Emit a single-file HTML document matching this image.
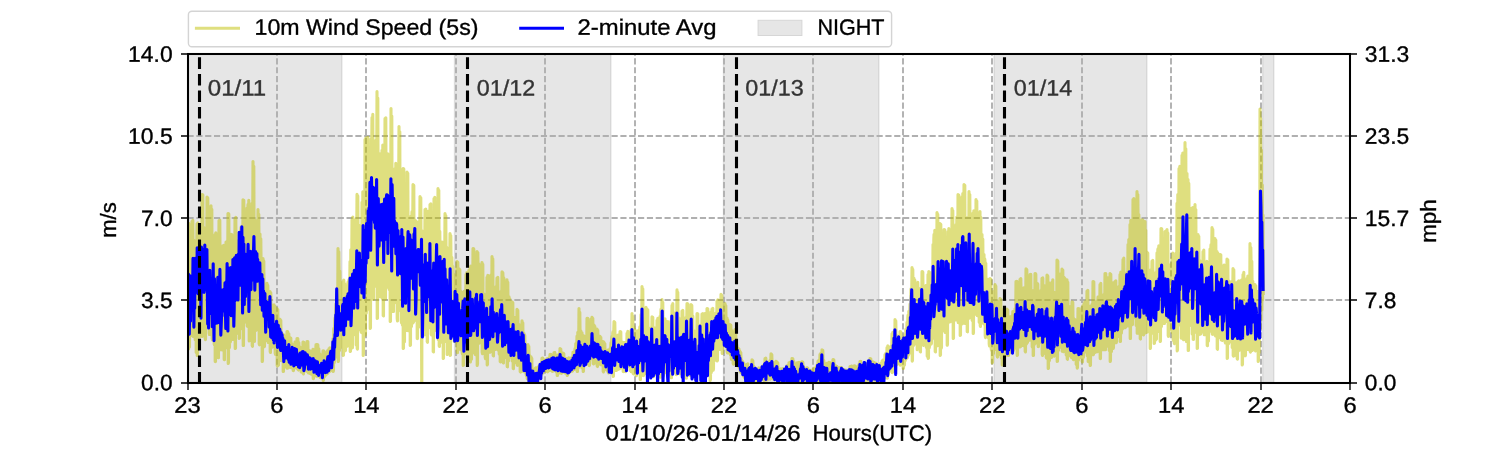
<!DOCTYPE html>
<html><head><meta charset="utf-8"><title>Wind Speed</title>
<style>html,body{margin:0;padding:0;background:#fff;overflow:hidden}body{width:1500px;height:450px}</style>
</head><body>
<svg width="1500" height="450" viewBox="0 0 1500 450" style="display:block;will-change:transform;font-family:'Liberation Sans',sans-serif">
<rect width="1500" height="450" fill="#fff"/>
<defs><clipPath id="ax"><rect x="187.5" y="54.0" width="1162.5" height="328.5"/></clipPath></defs>
<g clip-path="url(#ax)">
<rect x="187.50" y="54.0" width="154.40" height="328.5" fill="#808080" fill-opacity="0.2" stroke="#808080" stroke-opacity="0.2" stroke-width="1.39"/>
<rect x="454.50" y="54.0" width="156.40" height="328.5" fill="#808080" fill-opacity="0.2" stroke="#808080" stroke-opacity="0.2" stroke-width="1.39"/>
<rect x="723.50" y="54.0" width="155.40" height="328.5" fill="#808080" fill-opacity="0.2" stroke="#808080" stroke-opacity="0.2" stroke-width="1.39"/>
<rect x="994.00" y="54.0" width="152.90" height="328.5" fill="#808080" fill-opacity="0.2" stroke="#808080" stroke-opacity="0.2" stroke-width="1.39"/>
<rect x="1262.70" y="54.0" width="11.10" height="328.5" fill="#808080" fill-opacity="0.2" stroke="#808080" stroke-opacity="0.2" stroke-width="1.39"/>
</g>
<g>
<path d="M277.00 54.00V55.68M277.00 58.35V64.52M277.00 67.18V73.35M277.00 76.02V82.19M277.00 84.85V91.02M277.00 93.69V99.85M277.00 102.52V108.69M277.00 111.35V117.52M277.00 120.19V126.36M277.00 129.02V135.19M277.00 137.86V144.02M277.00 146.69V152.86M277.00 155.52V161.69M277.00 164.36V170.53M277.00 173.19V179.36M277.00 182.03V188.19M277.00 190.86V197.03M277.00 199.69V205.86M277.00 208.53V214.70M277.00 217.36V223.53M277.00 226.20V232.36M277.00 235.03V241.20M277.00 243.86V250.03M277.00 252.70V258.87M277.00 261.53V267.70M277.00 270.37V276.53M277.00 279.20V285.37M277.00 288.03V294.20M277.00 296.87V303.04M277.00 305.70V311.87M277.00 314.54V320.70M277.00 323.37V329.54M277.00 332.20V338.37M277.00 341.04V347.21M277.00 349.87V356.04M277.00 358.71V364.87M277.00 367.54V373.71M277.00 376.37V382.50" stroke="#b0b0b0" stroke-width="1.9" fill="none"/>
<path d="M366.00 54.00V55.68M366.00 58.35V64.52M366.00 67.18V73.35M366.00 76.02V82.19M366.00 84.85V91.02M366.00 93.69V99.85M366.00 102.52V108.69M366.00 111.35V117.52M366.00 120.19V126.36M366.00 129.02V135.19M366.00 137.86V144.02M366.00 146.69V152.86M366.00 155.52V161.69M366.00 164.36V170.53M366.00 173.19V179.36M366.00 182.03V188.19M366.00 190.86V197.03M366.00 199.69V205.86M366.00 208.53V214.70M366.00 217.36V223.53M366.00 226.20V232.36M366.00 235.03V241.20M366.00 243.86V250.03M366.00 252.70V258.87M366.00 261.53V267.70M366.00 270.37V276.53M366.00 279.20V285.37M366.00 288.03V294.20M366.00 296.87V303.04M366.00 305.70V311.87M366.00 314.54V320.70M366.00 323.37V329.54M366.00 332.20V338.37M366.00 341.04V347.21M366.00 349.87V356.04M366.00 358.71V364.87M366.00 367.54V373.71M366.00 376.37V382.50" stroke="#b0b0b0" stroke-width="1.9" fill="none"/>
<path d="M456.00 54.00V55.68M456.00 58.35V64.52M456.00 67.18V73.35M456.00 76.02V82.19M456.00 84.85V91.02M456.00 93.69V99.85M456.00 102.52V108.69M456.00 111.35V117.52M456.00 120.19V126.36M456.00 129.02V135.19M456.00 137.86V144.02M456.00 146.69V152.86M456.00 155.52V161.69M456.00 164.36V170.53M456.00 173.19V179.36M456.00 182.03V188.19M456.00 190.86V197.03M456.00 199.69V205.86M456.00 208.53V214.70M456.00 217.36V223.53M456.00 226.20V232.36M456.00 235.03V241.20M456.00 243.86V250.03M456.00 252.70V258.87M456.00 261.53V267.70M456.00 270.37V276.53M456.00 279.20V285.37M456.00 288.03V294.20M456.00 296.87V303.04M456.00 305.70V311.87M456.00 314.54V320.70M456.00 323.37V329.54M456.00 332.20V338.37M456.00 341.04V347.21M456.00 349.87V356.04M456.00 358.71V364.87M456.00 367.54V373.71M456.00 376.37V382.50" stroke="#b0b0b0" stroke-width="1.9" fill="none"/>
<path d="M545.00 54.00V55.68M545.00 58.35V64.52M545.00 67.18V73.35M545.00 76.02V82.19M545.00 84.85V91.02M545.00 93.69V99.85M545.00 102.52V108.69M545.00 111.35V117.52M545.00 120.19V126.36M545.00 129.02V135.19M545.00 137.86V144.02M545.00 146.69V152.86M545.00 155.52V161.69M545.00 164.36V170.53M545.00 173.19V179.36M545.00 182.03V188.19M545.00 190.86V197.03M545.00 199.69V205.86M545.00 208.53V214.70M545.00 217.36V223.53M545.00 226.20V232.36M545.00 235.03V241.20M545.00 243.86V250.03M545.00 252.70V258.87M545.00 261.53V267.70M545.00 270.37V276.53M545.00 279.20V285.37M545.00 288.03V294.20M545.00 296.87V303.04M545.00 305.70V311.87M545.00 314.54V320.70M545.00 323.37V329.54M545.00 332.20V338.37M545.00 341.04V347.21M545.00 349.87V356.04M545.00 358.71V364.87M545.00 367.54V373.71M545.00 376.37V382.50" stroke="#b0b0b0" stroke-width="1.9" fill="none"/>
<path d="M635.00 54.00V55.68M635.00 58.35V64.52M635.00 67.18V73.35M635.00 76.02V82.19M635.00 84.85V91.02M635.00 93.69V99.85M635.00 102.52V108.69M635.00 111.35V117.52M635.00 120.19V126.36M635.00 129.02V135.19M635.00 137.86V144.02M635.00 146.69V152.86M635.00 155.52V161.69M635.00 164.36V170.53M635.00 173.19V179.36M635.00 182.03V188.19M635.00 190.86V197.03M635.00 199.69V205.86M635.00 208.53V214.70M635.00 217.36V223.53M635.00 226.20V232.36M635.00 235.03V241.20M635.00 243.86V250.03M635.00 252.70V258.87M635.00 261.53V267.70M635.00 270.37V276.53M635.00 279.20V285.37M635.00 288.03V294.20M635.00 296.87V303.04M635.00 305.70V311.87M635.00 314.54V320.70M635.00 323.37V329.54M635.00 332.20V338.37M635.00 341.04V347.21M635.00 349.87V356.04M635.00 358.71V364.87M635.00 367.54V373.71M635.00 376.37V382.50" stroke="#b0b0b0" stroke-width="1.9" fill="none"/>
<path d="M724.00 54.00V55.68M724.00 58.35V64.52M724.00 67.18V73.35M724.00 76.02V82.19M724.00 84.85V91.02M724.00 93.69V99.85M724.00 102.52V108.69M724.00 111.35V117.52M724.00 120.19V126.36M724.00 129.02V135.19M724.00 137.86V144.02M724.00 146.69V152.86M724.00 155.52V161.69M724.00 164.36V170.53M724.00 173.19V179.36M724.00 182.03V188.19M724.00 190.86V197.03M724.00 199.69V205.86M724.00 208.53V214.70M724.00 217.36V223.53M724.00 226.20V232.36M724.00 235.03V241.20M724.00 243.86V250.03M724.00 252.70V258.87M724.00 261.53V267.70M724.00 270.37V276.53M724.00 279.20V285.37M724.00 288.03V294.20M724.00 296.87V303.04M724.00 305.70V311.87M724.00 314.54V320.70M724.00 323.37V329.54M724.00 332.20V338.37M724.00 341.04V347.21M724.00 349.87V356.04M724.00 358.71V364.87M724.00 367.54V373.71M724.00 376.37V382.50" stroke="#b0b0b0" stroke-width="1.9" fill="none"/>
<path d="M813.00 54.00V55.68M813.00 58.35V64.52M813.00 67.18V73.35M813.00 76.02V82.19M813.00 84.85V91.02M813.00 93.69V99.85M813.00 102.52V108.69M813.00 111.35V117.52M813.00 120.19V126.36M813.00 129.02V135.19M813.00 137.86V144.02M813.00 146.69V152.86M813.00 155.52V161.69M813.00 164.36V170.53M813.00 173.19V179.36M813.00 182.03V188.19M813.00 190.86V197.03M813.00 199.69V205.86M813.00 208.53V214.70M813.00 217.36V223.53M813.00 226.20V232.36M813.00 235.03V241.20M813.00 243.86V250.03M813.00 252.70V258.87M813.00 261.53V267.70M813.00 270.37V276.53M813.00 279.20V285.37M813.00 288.03V294.20M813.00 296.87V303.04M813.00 305.70V311.87M813.00 314.54V320.70M813.00 323.37V329.54M813.00 332.20V338.37M813.00 341.04V347.21M813.00 349.87V356.04M813.00 358.71V364.87M813.00 367.54V373.71M813.00 376.37V382.50" stroke="#b0b0b0" stroke-width="1.9" fill="none"/>
<path d="M903.00 54.00V55.68M903.00 58.35V64.52M903.00 67.18V73.35M903.00 76.02V82.19M903.00 84.85V91.02M903.00 93.69V99.85M903.00 102.52V108.69M903.00 111.35V117.52M903.00 120.19V126.36M903.00 129.02V135.19M903.00 137.86V144.02M903.00 146.69V152.86M903.00 155.52V161.69M903.00 164.36V170.53M903.00 173.19V179.36M903.00 182.03V188.19M903.00 190.86V197.03M903.00 199.69V205.86M903.00 208.53V214.70M903.00 217.36V223.53M903.00 226.20V232.36M903.00 235.03V241.20M903.00 243.86V250.03M903.00 252.70V258.87M903.00 261.53V267.70M903.00 270.37V276.53M903.00 279.20V285.37M903.00 288.03V294.20M903.00 296.87V303.04M903.00 305.70V311.87M903.00 314.54V320.70M903.00 323.37V329.54M903.00 332.20V338.37M903.00 341.04V347.21M903.00 349.87V356.04M903.00 358.71V364.87M903.00 367.54V373.71M903.00 376.37V382.50" stroke="#b0b0b0" stroke-width="1.9" fill="none"/>
<path d="M992.00 54.00V55.68M992.00 58.35V64.52M992.00 67.18V73.35M992.00 76.02V82.19M992.00 84.85V91.02M992.00 93.69V99.85M992.00 102.52V108.69M992.00 111.35V117.52M992.00 120.19V126.36M992.00 129.02V135.19M992.00 137.86V144.02M992.00 146.69V152.86M992.00 155.52V161.69M992.00 164.36V170.53M992.00 173.19V179.36M992.00 182.03V188.19M992.00 190.86V197.03M992.00 199.69V205.86M992.00 208.53V214.70M992.00 217.36V223.53M992.00 226.20V232.36M992.00 235.03V241.20M992.00 243.86V250.03M992.00 252.70V258.87M992.00 261.53V267.70M992.00 270.37V276.53M992.00 279.20V285.37M992.00 288.03V294.20M992.00 296.87V303.04M992.00 305.70V311.87M992.00 314.54V320.70M992.00 323.37V329.54M992.00 332.20V338.37M992.00 341.04V347.21M992.00 349.87V356.04M992.00 358.71V364.87M992.00 367.54V373.71M992.00 376.37V382.50" stroke="#b0b0b0" stroke-width="1.9" fill="none"/>
<path d="M1082.00 54.00V55.68M1082.00 58.35V64.52M1082.00 67.18V73.35M1082.00 76.02V82.19M1082.00 84.85V91.02M1082.00 93.69V99.85M1082.00 102.52V108.69M1082.00 111.35V117.52M1082.00 120.19V126.36M1082.00 129.02V135.19M1082.00 137.86V144.02M1082.00 146.69V152.86M1082.00 155.52V161.69M1082.00 164.36V170.53M1082.00 173.19V179.36M1082.00 182.03V188.19M1082.00 190.86V197.03M1082.00 199.69V205.86M1082.00 208.53V214.70M1082.00 217.36V223.53M1082.00 226.20V232.36M1082.00 235.03V241.20M1082.00 243.86V250.03M1082.00 252.70V258.87M1082.00 261.53V267.70M1082.00 270.37V276.53M1082.00 279.20V285.37M1082.00 288.03V294.20M1082.00 296.87V303.04M1082.00 305.70V311.87M1082.00 314.54V320.70M1082.00 323.37V329.54M1082.00 332.20V338.37M1082.00 341.04V347.21M1082.00 349.87V356.04M1082.00 358.71V364.87M1082.00 367.54V373.71M1082.00 376.37V382.50" stroke="#b0b0b0" stroke-width="1.9" fill="none"/>
<path d="M1171.00 54.00V55.68M1171.00 58.35V64.52M1171.00 67.18V73.35M1171.00 76.02V82.19M1171.00 84.85V91.02M1171.00 93.69V99.85M1171.00 102.52V108.69M1171.00 111.35V117.52M1171.00 120.19V126.36M1171.00 129.02V135.19M1171.00 137.86V144.02M1171.00 146.69V152.86M1171.00 155.52V161.69M1171.00 164.36V170.53M1171.00 173.19V179.36M1171.00 182.03V188.19M1171.00 190.86V197.03M1171.00 199.69V205.86M1171.00 208.53V214.70M1171.00 217.36V223.53M1171.00 226.20V232.36M1171.00 235.03V241.20M1171.00 243.86V250.03M1171.00 252.70V258.87M1171.00 261.53V267.70M1171.00 270.37V276.53M1171.00 279.20V285.37M1171.00 288.03V294.20M1171.00 296.87V303.04M1171.00 305.70V311.87M1171.00 314.54V320.70M1171.00 323.37V329.54M1171.00 332.20V338.37M1171.00 341.04V347.21M1171.00 349.87V356.04M1171.00 358.71V364.87M1171.00 367.54V373.71M1171.00 376.37V382.50" stroke="#b0b0b0" stroke-width="1.9" fill="none"/>
<path d="M1261.00 54.00V55.68M1261.00 58.35V64.52M1261.00 67.18V73.35M1261.00 76.02V82.19M1261.00 84.85V91.02M1261.00 93.69V99.85M1261.00 102.52V108.69M1261.00 111.35V117.52M1261.00 120.19V126.36M1261.00 129.02V135.19M1261.00 137.86V144.02M1261.00 146.69V152.86M1261.00 155.52V161.69M1261.00 164.36V170.53M1261.00 173.19V179.36M1261.00 182.03V188.19M1261.00 190.86V197.03M1261.00 199.69V205.86M1261.00 208.53V214.70M1261.00 217.36V223.53M1261.00 226.20V232.36M1261.00 235.03V241.20M1261.00 243.86V250.03M1261.00 252.70V258.87M1261.00 261.53V267.70M1261.00 270.37V276.53M1261.00 279.20V285.37M1261.00 288.03V294.20M1261.00 296.87V303.04M1261.00 305.70V311.87M1261.00 314.54V320.70M1261.00 323.37V329.54M1261.00 332.20V338.37M1261.00 341.04V347.21M1261.00 349.87V356.04M1261.00 358.71V364.87M1261.00 367.54V373.71M1261.00 376.37V382.50" stroke="#b0b0b0" stroke-width="1.9" fill="none"/>
<path d="M187.50 300.00H193.67M196.33 300.00H202.50M205.17 300.00H211.34M214.00 300.00H220.17M222.84 300.00H229.00M231.67 300.00H237.84M240.50 300.00H246.67M249.34 300.00H255.51M258.17 300.00H264.34M267.01 300.00H273.17M275.84 300.00H282.01M284.67 300.00H290.84M293.51 300.00H299.68M302.34 300.00H308.51M311.18 300.00H317.34M320.01 300.00H326.18M328.84 300.00H335.01M337.68 300.00H343.85M346.51 300.00H352.68M355.35 300.00H361.51M364.18 300.00H370.35M373.01 300.00H379.18M381.85 300.00H388.02M390.68 300.00H396.85M399.52 300.00H405.68M408.35 300.00H414.52M417.18 300.00H423.35M426.02 300.00H432.19M434.85 300.00H441.02M443.69 300.00H449.85M452.52 300.00H458.69M461.35 300.00H467.52M470.19 300.00H476.36M479.02 300.00H485.19M487.86 300.00H494.02M496.69 300.00H502.86M505.52 300.00H511.69M514.36 300.00H520.53M523.19 300.00H529.36M532.03 300.00H538.19M540.86 300.00H547.03M549.69 300.00H555.86M558.53 300.00H564.69M567.36 300.00H573.53M576.20 300.00H582.36M585.03 300.00H591.20M593.86 300.00H600.03M602.70 300.00H608.86M611.53 300.00H617.70M620.37 300.00H626.53M629.20 300.00H635.37M638.03 300.00H644.20M646.87 300.00H653.03M655.70 300.00H661.87M664.54 300.00H670.70M673.37 300.00H679.54M682.20 300.00H688.37M691.04 300.00H697.20M699.87 300.00H706.04M708.71 300.00H714.87M717.54 300.00H723.71M726.37 300.00H732.54M735.21 300.00H741.37M744.04 300.00H750.21M752.88 300.00H759.04M761.71 300.00H767.88M770.54 300.00H776.71M779.38 300.00H785.54M788.21 300.00H794.38M797.05 300.00H803.21M805.88 300.00H812.05M814.71 300.00H820.88M823.55 300.00H829.71M832.38 300.00H838.55M841.22 300.00H847.38M850.05 300.00H856.22M858.88 300.00H865.05M867.72 300.00H873.88M876.55 300.00H882.72M885.39 300.00H891.55M894.22 300.00H900.39M903.05 300.00H909.22M911.89 300.00H918.05M920.72 300.00H926.89M929.56 300.00H935.72M938.39 300.00H944.56M947.22 300.00H953.39M956.06 300.00H962.22M964.89 300.00H971.06M973.73 300.00H979.89M982.56 300.00H988.73M991.39 300.00H997.56M1000.23 300.00H1006.39M1009.06 300.00H1015.23M1017.90 300.00H1024.06M1026.73 300.00H1032.90M1035.56 300.00H1041.73M1044.40 300.00H1050.56M1053.23 300.00H1059.40M1062.07 300.00H1068.23M1070.90 300.00H1077.07M1079.73 300.00H1085.90M1088.57 300.00H1094.73M1097.40 300.00H1103.57M1106.24 300.00H1112.40M1115.07 300.00H1121.24M1123.90 300.00H1130.07M1132.74 300.00H1138.90M1141.57 300.00H1147.74M1150.41 300.00H1156.57M1159.24 300.00H1165.41M1168.07 300.00H1174.24M1176.91 300.00H1183.07M1185.74 300.00H1191.91M1194.58 300.00H1200.74M1203.41 300.00H1209.58M1212.24 300.00H1218.41M1221.08 300.00H1227.24M1229.91 300.00H1236.08M1238.75 300.00H1244.91M1247.58 300.00H1253.75M1256.41 300.00H1262.58M1265.25 300.00H1271.41M1274.08 300.00H1280.25M1282.92 300.00H1289.08M1291.75 300.00H1297.92M1300.58 300.00H1306.75M1309.42 300.00H1315.58M1318.25 300.00H1324.42M1327.09 300.00H1333.25M1335.92 300.00H1342.09M1344.75 300.00H1350.00" stroke="#b0b0b0" stroke-width="1.9" fill="none"/>
<path d="M187.50 218.00H193.67M196.33 218.00H202.50M205.17 218.00H211.34M214.00 218.00H220.17M222.84 218.00H229.00M231.67 218.00H237.84M240.50 218.00H246.67M249.34 218.00H255.51M258.17 218.00H264.34M267.01 218.00H273.17M275.84 218.00H282.01M284.67 218.00H290.84M293.51 218.00H299.68M302.34 218.00H308.51M311.18 218.00H317.34M320.01 218.00H326.18M328.84 218.00H335.01M337.68 218.00H343.85M346.51 218.00H352.68M355.35 218.00H361.51M364.18 218.00H370.35M373.01 218.00H379.18M381.85 218.00H388.02M390.68 218.00H396.85M399.52 218.00H405.68M408.35 218.00H414.52M417.18 218.00H423.35M426.02 218.00H432.19M434.85 218.00H441.02M443.69 218.00H449.85M452.52 218.00H458.69M461.35 218.00H467.52M470.19 218.00H476.36M479.02 218.00H485.19M487.86 218.00H494.02M496.69 218.00H502.86M505.52 218.00H511.69M514.36 218.00H520.53M523.19 218.00H529.36M532.03 218.00H538.19M540.86 218.00H547.03M549.69 218.00H555.86M558.53 218.00H564.69M567.36 218.00H573.53M576.20 218.00H582.36M585.03 218.00H591.20M593.86 218.00H600.03M602.70 218.00H608.86M611.53 218.00H617.70M620.37 218.00H626.53M629.20 218.00H635.37M638.03 218.00H644.20M646.87 218.00H653.03M655.70 218.00H661.87M664.54 218.00H670.70M673.37 218.00H679.54M682.20 218.00H688.37M691.04 218.00H697.20M699.87 218.00H706.04M708.71 218.00H714.87M717.54 218.00H723.71M726.37 218.00H732.54M735.21 218.00H741.37M744.04 218.00H750.21M752.88 218.00H759.04M761.71 218.00H767.88M770.54 218.00H776.71M779.38 218.00H785.54M788.21 218.00H794.38M797.05 218.00H803.21M805.88 218.00H812.05M814.71 218.00H820.88M823.55 218.00H829.71M832.38 218.00H838.55M841.22 218.00H847.38M850.05 218.00H856.22M858.88 218.00H865.05M867.72 218.00H873.88M876.55 218.00H882.72M885.39 218.00H891.55M894.22 218.00H900.39M903.05 218.00H909.22M911.89 218.00H918.05M920.72 218.00H926.89M929.56 218.00H935.72M938.39 218.00H944.56M947.22 218.00H953.39M956.06 218.00H962.22M964.89 218.00H971.06M973.73 218.00H979.89M982.56 218.00H988.73M991.39 218.00H997.56M1000.23 218.00H1006.39M1009.06 218.00H1015.23M1017.90 218.00H1024.06M1026.73 218.00H1032.90M1035.56 218.00H1041.73M1044.40 218.00H1050.56M1053.23 218.00H1059.40M1062.07 218.00H1068.23M1070.90 218.00H1077.07M1079.73 218.00H1085.90M1088.57 218.00H1094.73M1097.40 218.00H1103.57M1106.24 218.00H1112.40M1115.07 218.00H1121.24M1123.90 218.00H1130.07M1132.74 218.00H1138.90M1141.57 218.00H1147.74M1150.41 218.00H1156.57M1159.24 218.00H1165.41M1168.07 218.00H1174.24M1176.91 218.00H1183.07M1185.74 218.00H1191.91M1194.58 218.00H1200.74M1203.41 218.00H1209.58M1212.24 218.00H1218.41M1221.08 218.00H1227.24M1229.91 218.00H1236.08M1238.75 218.00H1244.91M1247.58 218.00H1253.75M1256.41 218.00H1262.58M1265.25 218.00H1271.41M1274.08 218.00H1280.25M1282.92 218.00H1289.08M1291.75 218.00H1297.92M1300.58 218.00H1306.75M1309.42 218.00H1315.58M1318.25 218.00H1324.42M1327.09 218.00H1333.25M1335.92 218.00H1342.09M1344.75 218.00H1350.00" stroke="#b0b0b0" stroke-width="1.9" fill="none"/>
<path d="M187.50 136.00H193.67M196.33 136.00H202.50M205.17 136.00H211.34M214.00 136.00H220.17M222.84 136.00H229.00M231.67 136.00H237.84M240.50 136.00H246.67M249.34 136.00H255.51M258.17 136.00H264.34M267.01 136.00H273.17M275.84 136.00H282.01M284.67 136.00H290.84M293.51 136.00H299.68M302.34 136.00H308.51M311.18 136.00H317.34M320.01 136.00H326.18M328.84 136.00H335.01M337.68 136.00H343.85M346.51 136.00H352.68M355.35 136.00H361.51M364.18 136.00H370.35M373.01 136.00H379.18M381.85 136.00H388.02M390.68 136.00H396.85M399.52 136.00H405.68M408.35 136.00H414.52M417.18 136.00H423.35M426.02 136.00H432.19M434.85 136.00H441.02M443.69 136.00H449.85M452.52 136.00H458.69M461.35 136.00H467.52M470.19 136.00H476.36M479.02 136.00H485.19M487.86 136.00H494.02M496.69 136.00H502.86M505.52 136.00H511.69M514.36 136.00H520.53M523.19 136.00H529.36M532.03 136.00H538.19M540.86 136.00H547.03M549.69 136.00H555.86M558.53 136.00H564.69M567.36 136.00H573.53M576.20 136.00H582.36M585.03 136.00H591.20M593.86 136.00H600.03M602.70 136.00H608.86M611.53 136.00H617.70M620.37 136.00H626.53M629.20 136.00H635.37M638.03 136.00H644.20M646.87 136.00H653.03M655.70 136.00H661.87M664.54 136.00H670.70M673.37 136.00H679.54M682.20 136.00H688.37M691.04 136.00H697.20M699.87 136.00H706.04M708.71 136.00H714.87M717.54 136.00H723.71M726.37 136.00H732.54M735.21 136.00H741.37M744.04 136.00H750.21M752.88 136.00H759.04M761.71 136.00H767.88M770.54 136.00H776.71M779.38 136.00H785.54M788.21 136.00H794.38M797.05 136.00H803.21M805.88 136.00H812.05M814.71 136.00H820.88M823.55 136.00H829.71M832.38 136.00H838.55M841.22 136.00H847.38M850.05 136.00H856.22M858.88 136.00H865.05M867.72 136.00H873.88M876.55 136.00H882.72M885.39 136.00H891.55M894.22 136.00H900.39M903.05 136.00H909.22M911.89 136.00H918.05M920.72 136.00H926.89M929.56 136.00H935.72M938.39 136.00H944.56M947.22 136.00H953.39M956.06 136.00H962.22M964.89 136.00H971.06M973.73 136.00H979.89M982.56 136.00H988.73M991.39 136.00H997.56M1000.23 136.00H1006.39M1009.06 136.00H1015.23M1017.90 136.00H1024.06M1026.73 136.00H1032.90M1035.56 136.00H1041.73M1044.40 136.00H1050.56M1053.23 136.00H1059.40M1062.07 136.00H1068.23M1070.90 136.00H1077.07M1079.73 136.00H1085.90M1088.57 136.00H1094.73M1097.40 136.00H1103.57M1106.24 136.00H1112.40M1115.07 136.00H1121.24M1123.90 136.00H1130.07M1132.74 136.00H1138.90M1141.57 136.00H1147.74M1150.41 136.00H1156.57M1159.24 136.00H1165.41M1168.07 136.00H1174.24M1176.91 136.00H1183.07M1185.74 136.00H1191.91M1194.58 136.00H1200.74M1203.41 136.00H1209.58M1212.24 136.00H1218.41M1221.08 136.00H1227.24M1229.91 136.00H1236.08M1238.75 136.00H1244.91M1247.58 136.00H1253.75M1256.41 136.00H1262.58M1265.25 136.00H1271.41M1274.08 136.00H1280.25M1282.92 136.00H1289.08M1291.75 136.00H1297.92M1300.58 136.00H1306.75M1309.42 136.00H1315.58M1318.25 136.00H1324.42M1327.09 136.00H1333.25M1335.92 136.00H1342.09M1344.75 136.00H1350.00" stroke="#b0b0b0" stroke-width="1.9" fill="none"/>
</g>
<g clip-path="url(#ax)" fill="none" stroke-linejoin="round" stroke-linecap="butt">
<path d="M188.0 224.5L188.2 348.5L188.5 348.9L188.8 223.4L189.0 263.4L189.2 346.6L189.5 346.9L189.8 262.2L190.0 246.3L190.2 336.0L190.5 335.9L190.8 245.1L191.0 256.5L191.2 334.1L191.5 333.9L191.8 255.3L192.0 221.3L192.2 334.6L192.5 334.5L192.8 220.2L193.0 241.1L193.2 336.5L193.5 336.6L193.8 240.1L194.0 248.0L194.2 328.7L194.5 328.6L194.8 247.0L195.0 248.3L195.2 339.7L195.5 339.8L195.8 247.4L196.0 244.6L196.2 352.4L196.5 352.7L196.8 243.6L197.0 223.8L197.2 355.5L197.5 354.4L197.8 222.8L198.0 250.6L198.2 330.8L198.5 329.8L198.8 249.6L199.0 228.3L199.2 337.2L199.5 336.2L199.8 227.3L200.0 233.2L200.2 330.2L200.5 329.5L200.8 232.7L201.0 245.9L201.2 317.8L201.5 317.3L201.8 245.6L202.0 194.6L202.2 336.5L202.5 335.6L202.8 194.8L203.0 241.9L203.2 325.5L203.5 324.8L203.8 242.2L204.0 227.7L204.2 328.6L204.5 327.8L204.8 228.0L205.0 240.1L205.2 338.5L205.5 339.6L205.8 240.3L206.0 249.1L206.2 322.5L206.5 323.3L206.8 249.3L207.0 197.0L207.2 315.5L207.5 316.7L207.8 197.9L208.0 227.6L208.2 320.5L208.5 321.7L208.8 228.6L209.0 236.2L209.2 333.3L209.5 334.5L209.8 237.3L210.0 232.6L210.2 326.9L210.5 328.2L210.8 233.7L211.0 205.7L211.2 334.0L211.5 335.2L211.8 209.3L212.0 257.9L212.2 338.7L212.5 340.0L212.8 260.3L213.0 251.6L213.2 339.9L213.5 340.6L213.8 253.9L214.0 262.7L214.2 344.1L214.5 345.0L214.8 264.6L215.0 234.5L215.2 361.5L215.5 361.6L215.8 232.8L216.0 267.0L216.2 338.4L216.5 338.4L216.8 266.2L217.0 266.5L217.2 343.1L217.5 343.1L217.8 265.7L218.0 255.6L218.2 357.6L218.5 357.7L218.8 254.6L219.0 220.5L219.2 334.7L219.5 334.7L219.8 220.1L220.0 252.3L220.2 349.7L220.5 349.7L220.8 252.0L221.0 253.2L221.2 343.8L221.5 343.8L221.8 252.8L222.0 250.6L222.2 349.9L222.5 349.8L222.8 250.2L223.0 245.7L223.2 347.9L223.5 347.8L223.8 245.3L224.0 260.3L224.2 359.6L224.5 359.7L224.8 259.9L225.0 259.2L225.2 333.7L225.5 333.6L225.8 258.8L226.0 242.1L226.2 347.6L226.5 347.5L226.8 241.7L227.0 243.7L227.2 336.3L227.5 336.2L227.8 243.3L228.0 213.5L228.2 363.5L228.5 362.4L228.8 213.9L229.0 245.2L229.2 347.9L229.5 347.0L229.8 245.3L230.0 248.8L230.2 342.3L230.5 341.5L230.8 248.8L231.0 234.4L231.2 338.1L231.5 337.2L231.8 234.6L232.0 250.7L232.2 333.2L232.5 332.4L232.8 250.8L233.0 257.7L233.2 339.4L233.5 338.3L233.8 257.1L234.0 259.5L234.2 332.4L234.5 331.3L234.8 258.9L235.0 218.5L235.2 348.5L235.5 348.3L235.8 217.3L236.0 241.9L236.2 333.7L236.5 333.3L236.8 240.6L237.0 252.2L237.2 322.5L237.5 321.8L237.8 250.9L238.0 251.4L238.2 317.5L238.5 316.8L238.8 250.1L239.0 245.1L239.2 338.4L239.5 338.0L239.8 243.8L240.0 232.0L240.2 329.3L240.5 328.8L240.8 230.7L241.0 227.6L241.2 325.9L241.5 325.4L241.8 226.3L242.0 237.2L242.2 317.5L242.5 317.7L242.8 237.1L243.0 199.8L243.2 345.5L243.5 345.5L243.8 200.3L244.0 234.6L244.2 322.2L244.5 322.4L244.8 235.2L245.0 231.6L245.2 318.3L245.5 318.7L245.8 232.2L246.0 233.2L246.2 314.4L246.5 314.8L246.8 233.8L247.0 208.1L247.2 326.1L247.5 326.3L247.8 208.6L248.0 204.5L248.2 318.6L248.5 318.0L248.8 200.2L249.0 224.2L249.2 340.9L249.5 340.8L249.8 220.9L250.0 228.0L250.2 316.0L250.5 315.4L250.8 225.0L251.0 226.4L251.2 323.0L251.5 322.5L251.8 223.6L252.0 203.3L252.2 345.5L252.5 346.3L252.8 199.9L253.0 161.5L253.2 314.3L253.5 314.2L253.8 166.3L254.0 216.6L254.2 340.5L254.5 341.4L254.8 219.9L255.0 227.8L255.2 329.7L255.5 330.7L255.8 230.9L256.0 228.8L256.2 329.0L256.5 330.1L256.8 232.1L257.0 234.3L257.2 321.1L257.5 322.2L257.8 237.6L258.0 209.5L258.2 325.7L258.5 326.9L258.8 214.4L259.0 243.3L259.2 343.8L259.5 344.8L259.8 246.9L260.0 234.0L260.2 341.9L260.5 343.2L260.8 238.7L261.0 255.9L261.2 329.0L261.5 330.8L261.8 260.2L262.0 268.6L262.2 361.5L262.5 360.9L262.8 272.7L263.0 258.5L263.2 333.5L263.5 334.6L263.8 260.9L264.0 288.6L264.2 346.2L264.5 346.5L264.8 291.4L265.0 294.0L265.2 337.7L265.5 337.4L265.8 295.1L266.0 287.4L266.2 340.5L266.5 340.2L266.8 289.0L267.0 283.4L267.2 339.8L267.5 339.5L267.8 285.4L268.0 299.3L268.2 342.5L268.5 342.2L268.8 300.6L269.0 303.0L269.2 338.1L269.5 337.9L269.8 304.2L270.0 291.5L270.2 351.5L270.5 352.5L270.8 292.7L271.0 306.5L271.2 346.4L271.5 347.4L271.8 307.8L272.0 305.1L272.2 345.9L272.5 347.0L272.8 306.4L273.0 312.5L273.2 341.5L273.5 342.7L273.8 313.7L274.0 304.9L274.2 344.5L274.5 345.7L274.8 306.1L275.0 313.0L275.2 353.2L275.5 354.3L275.8 314.2L276.0 320.1L276.2 351.9L276.5 353.0L276.8 321.4L277.0 308.5L277.2 365.5L277.5 366.0L277.8 309.6L278.0 321.0L278.2 364.6L278.5 365.2L278.8 322.2L279.0 319.7L279.2 359.7L279.5 360.4L279.8 320.9L280.0 319.3L280.2 359.7L280.5 360.5L280.8 320.4L281.0 333.6L281.2 359.7L281.5 360.5L281.8 334.8L282.0 333.9L282.2 359.9L282.5 360.8L282.8 335.1L283.0 334.2L283.2 371.5L283.5 371.4L283.8 335.0L284.0 337.8L284.2 361.8L284.5 361.9L284.8 338.6L285.0 336.5L285.2 364.0L285.5 364.1L285.8 337.4L286.0 341.5L286.2 367.1L286.5 367.1L286.8 342.2L287.0 331.5L287.2 368.2L287.5 368.2L287.8 331.9L288.0 333.4L288.2 365.1L288.5 365.2L288.8 333.7L289.0 344.8L289.2 365.8L289.5 365.8L289.8 345.1L290.0 337.7L290.2 367.4L290.5 367.4L290.8 338.0L291.0 343.3L291.2 367.7L291.5 367.7L291.8 343.7L292.0 344.4L292.2 367.6L292.5 367.7L292.8 344.7L293.0 346.2L293.2 370.5L293.5 370.6L293.8 346.5L294.0 345.0L294.2 367.0L294.5 367.2L294.8 345.3L295.0 342.1L295.2 366.3L295.5 366.5L295.8 342.4L296.0 347.9L296.2 367.9L296.5 368.1L296.8 348.2L297.0 338.5L297.2 368.5L297.5 368.6L297.8 338.6L298.0 342.4L298.2 369.8L298.5 370.0L298.8 342.6L299.0 346.8L299.2 368.0L299.5 368.2L299.8 347.0L300.0 349.9L300.2 367.6L300.5 367.7L300.8 350.1L301.0 347.7L301.2 372.0L301.5 372.1L301.8 347.8L302.0 351.2L302.2 368.6L302.5 368.8L302.8 351.4L303.0 342.0L303.2 373.5L303.5 373.8L303.8 342.2L304.0 351.0L304.2 369.8L304.5 370.0L304.8 351.1L305.0 350.3L305.2 369.8L305.5 370.0L305.8 350.5L306.0 351.6L306.2 370.8L306.5 371.1L306.8 351.8L307.0 341.5L307.2 371.1L307.5 371.4L307.8 341.6L308.0 350.1L308.2 372.6L308.5 372.9L308.8 350.3L309.0 350.7L309.2 372.7L309.5 373.0L309.8 350.9L310.0 352.7L310.2 373.6L310.5 373.8L310.8 352.8L311.0 355.4L311.2 373.8L311.5 374.1L311.8 355.6L312.0 351.0L312.2 374.0L312.5 374.2L312.8 351.1L313.0 349.3L313.2 378.5L313.5 378.6L313.8 349.5L314.0 354.5L314.2 375.1L314.5 375.3L314.8 354.8L315.0 350.0L315.2 374.5L315.5 374.7L315.8 350.2L316.0 344.9L316.2 375.9L316.5 376.1L316.8 345.0L317.0 344.5L317.2 375.9L317.5 376.1L317.8 344.9L318.0 348.5L318.2 375.5L318.5 375.7L318.8 348.8L319.0 353.6L319.2 375.2L319.5 375.4L319.8 353.9L320.0 360.2L320.2 377.4L320.5 377.6L320.8 360.6L321.0 361.0L321.2 377.7L321.5 377.9L321.8 361.3L322.0 356.9L322.2 376.7L322.5 376.6L322.8 356.9L323.0 350.8L323.2 380.5L323.5 380.1L323.8 351.1L324.0 352.5L324.2 376.9L324.5 376.4L324.8 352.7L325.0 356.2L325.2 375.6L325.5 375.2L325.8 356.2L326.0 354.4L326.2 373.1L326.5 372.6L326.8 354.5L327.0 351.5L327.2 374.0L327.5 373.5L327.8 350.4L328.0 355.6L328.2 371.4L328.5 370.7L328.8 354.5L329.0 348.8L329.2 371.9L329.5 371.3L329.8 347.8L330.0 351.8L330.2 371.0L330.5 370.4L330.8 350.8L331.0 348.8L331.2 370.0L331.5 369.4L331.8 347.7L332.0 347.7L332.2 366.1L332.5 365.4L332.8 346.6L333.0 338.5L333.2 371.5L333.5 370.5L333.8 329.5L334.0 328.3L334.2 362.8L334.5 360.7L334.8 320.5L335.0 318.0L335.2 357.5L335.5 355.2L335.8 310.8L336.0 303.7L336.2 346.8L336.5 343.9L336.8 296.5L337.0 292.4L337.2 347.4L337.5 346.9L337.8 288.8L338.0 248.5L338.2 361.5L338.5 360.9L338.8 251.8L339.0 268.2L339.2 350.7L339.5 350.3L339.8 271.0L340.0 291.4L340.2 346.7L340.5 346.4L340.8 293.2L341.0 295.6L341.2 347.2L341.5 346.9L341.8 297.4L342.0 295.7L342.2 343.3L342.5 343.1L342.8 297.7L343.0 281.5L343.2 355.5L343.5 355.2L343.8 280.1L344.0 285.2L344.2 350.1L344.5 349.7L344.8 283.8L345.0 298.3L345.2 350.7L345.5 350.3L345.8 297.0L346.0 295.4L346.2 340.2L346.5 339.6L346.8 294.1L347.0 293.0L347.2 346.3L347.5 345.9L347.8 291.7L348.0 282.1L348.2 338.3L348.5 337.7L348.8 280.8L349.0 279.8L349.2 332.1L349.5 331.4L349.8 278.4L350.0 261.5L350.2 351.5L350.5 351.3L350.8 249.7L351.0 261.2L351.2 331.2L351.5 330.4L351.8 253.2L352.0 219.8L352.2 348.0L352.5 347.7L352.8 217.0L353.0 252.8L353.2 335.2L353.5 334.5L353.8 250.5L354.0 243.9L354.2 333.6L354.5 332.9L354.8 241.5L355.0 221.9L355.2 326.7L355.5 326.0L355.8 219.3L356.0 224.9L356.2 344.9L356.5 344.6L356.8 222.4L357.0 194.4L357.2 348.5L357.5 349.1L357.8 195.9L358.0 225.1L358.2 329.8L358.5 329.9L358.8 225.7L359.0 225.3L359.2 327.9L359.5 328.0L359.8 225.9L360.0 226.4L360.2 329.8L360.5 329.9L360.8 227.1L361.0 233.6L361.2 332.3L361.5 332.5L361.8 234.0L362.0 202.2L362.2 321.2L362.5 321.1L362.8 191.8L363.0 208.5L363.2 355.5L363.5 353.6L363.8 200.2L364.0 208.0L364.2 326.7L364.5 324.4L364.8 200.8L365.0 139.5L365.2 335.3L365.5 333.1L365.8 138.0L366.0 198.7L366.2 313.3L366.5 310.8L366.8 195.9L367.0 139.0L367.2 309.9L367.5 307.5L367.8 137.4L368.0 176.0L368.2 306.2L368.5 303.8L368.8 173.5L369.0 164.9L369.2 296.1L369.5 293.6L369.8 162.5L370.0 174.3L370.2 328.5L370.5 327.8L370.8 173.9L371.0 138.8L371.2 293.9L371.5 293.5L371.8 137.6L372.0 117.6L372.2 299.3L372.5 298.9L372.8 114.4L373.0 171.4L373.2 299.3L373.5 298.9L373.8 170.3L374.0 172.4L374.2 273.9L374.5 273.7L374.8 171.4L375.0 158.1L375.2 283.6L375.5 283.4L375.8 156.7L376.0 140.0L376.2 286.3L376.5 286.0L376.8 138.2L377.0 91.5L377.2 318.5L377.5 318.2L377.8 98.1L378.0 151.1L378.2 294.0L378.5 294.0L378.8 155.5L379.0 176.1L379.2 274.4L379.5 274.7L379.8 179.6L380.0 153.8L380.2 296.7L380.5 296.7L380.8 159.0L381.0 191.8L381.2 285.4L381.5 285.6L381.8 195.2L382.0 150.3L382.2 298.3L382.5 298.2L382.8 145.0L383.0 178.2L383.2 315.5L383.5 315.9L383.8 174.9L384.0 181.1L384.2 285.2L384.5 285.3L384.8 178.1L385.0 118.5L385.2 298.7L385.5 299.0L385.8 117.7L386.0 170.9L386.2 287.2L386.5 287.2L386.8 170.2L387.0 154.5L387.2 278.3L387.5 278.3L387.8 153.8L388.0 166.9L388.2 280.7L388.5 280.7L388.8 166.2L389.0 177.8L389.2 289.5L389.5 289.6L389.8 177.1L390.0 167.8L390.2 321.5L390.5 321.3L390.8 167.1L391.0 108.5L391.2 283.6L391.5 284.2L391.8 116.0L392.0 170.9L392.2 299.7L392.5 300.0L392.8 175.9L393.0 169.9L393.2 311.4L393.5 311.4L393.8 175.5L394.0 191.5L394.2 302.6L394.5 302.8L394.8 196.4L395.0 168.5L395.2 295.8L395.5 296.2L395.8 163.2L396.0 191.5L396.2 298.4L396.5 298.7L396.8 189.0L397.0 194.6L397.2 318.5L397.5 321.0L397.8 192.8L398.0 165.8L398.2 299.8L398.5 302.2L398.8 162.4L399.0 126.5L399.2 300.9L399.5 303.3L399.8 131.8L400.0 206.9L400.2 308.7L400.5 311.1L400.8 210.4L401.0 171.0L401.2 320.4L401.5 322.8L401.8 175.6L402.0 220.3L402.2 323.4L402.5 325.3L402.8 222.7L403.0 168.5L403.2 348.5L403.5 348.3L403.8 168.9L404.0 226.7L404.2 342.0L404.5 341.8L404.8 227.0L405.0 196.3L405.2 316.6L405.5 316.6L405.8 196.7L406.0 226.2L406.2 322.9L406.5 322.9L406.8 226.5L407.0 172.1L407.2 330.5L407.5 330.4L407.8 173.2L408.0 221.3L408.2 330.8L408.5 330.6L408.8 221.8L409.0 232.9L409.2 314.8L409.5 314.6L409.8 233.3L410.0 216.7L410.2 345.5L410.5 345.0L410.8 217.2L411.0 216.4L411.2 326.7L411.5 326.3L411.8 217.0L412.0 211.9L412.2 323.5L412.5 323.1L412.8 212.5L413.0 184.5L413.2 322.5L413.5 322.1L413.8 185.4L414.0 229.1L414.2 320.8L414.5 320.4L414.8 229.5L415.0 220.0L415.2 317.8L415.5 317.9L415.8 221.1L416.0 225.0L416.2 314.9L416.5 315.1L416.8 226.1L417.0 227.2L417.2 338.5L417.5 338.6L417.8 228.3L418.0 222.0L418.2 317.0L418.5 317.6L418.8 223.0L419.0 222.6L419.2 314.2L419.5 314.9L419.8 223.6L420.0 196.5L420.2 326.7L420.5 327.2L420.8 197.8L421.0 242.3L421.2 327.9L421.5 328.4L421.8 400.0L422.0 230.9L422.2 317.2L422.5 317.1L422.8 231.6L423.0 253.9L423.2 326.9L423.5 326.9L423.8 254.2L424.0 247.3L424.2 334.8L424.5 334.9L424.8 247.6L425.0 209.5L425.2 331.7L425.5 331.8L425.8 209.0L426.0 252.7L426.2 331.5L426.5 331.6L426.8 252.2L427.0 218.3L427.2 341.5L427.5 342.3L427.8 217.8L428.0 211.6L428.2 321.8L428.5 322.1L428.8 211.1L429.0 239.9L429.2 318.4L429.5 318.7L429.8 239.4L430.0 204.5L430.2 327.4L430.5 328.2L430.8 203.8L431.0 248.2L431.2 334.0L431.5 334.9L431.8 248.3L432.0 241.6L432.2 323.8L432.5 324.6L432.8 241.6L433.0 251.1L433.2 351.5L433.5 351.9L433.8 251.3L434.0 198.5L434.2 330.5L434.5 331.0L434.8 197.2L435.0 244.7L435.2 324.2L435.5 324.8L435.8 244.5L436.0 242.3L436.2 325.8L436.5 326.3L436.8 242.1L437.0 229.3L437.2 327.4L437.5 327.7L437.8 228.7L438.0 188.5L438.2 339.5L438.5 339.9L438.8 190.3L439.0 230.1L439.2 346.1L439.5 346.4L439.8 231.4L440.0 249.5L440.2 340.2L440.5 340.6L440.8 250.5L441.0 247.4L441.2 341.8L441.5 342.1L441.8 248.5L442.0 242.0L442.2 333.2L442.5 333.6L442.8 243.2L443.0 247.8L443.2 358.5L443.5 358.3L443.8 249.0L444.0 242.7L444.2 330.0L444.5 330.1L444.8 244.0L445.0 213.5L445.2 341.4L445.5 341.4L445.8 215.5L446.0 245.8L446.2 338.2L446.5 338.2L446.8 247.3L447.0 264.0L447.2 354.5L447.5 354.3L447.8 265.2L448.0 257.2L448.2 340.1L448.5 340.1L448.8 258.6L449.0 256.9L449.2 332.8L449.5 332.9L449.8 258.4L450.0 233.5L450.2 355.5L450.5 355.2L450.8 235.5L451.0 255.5L451.2 336.8L451.5 337.0L451.8 257.3L452.0 264.7L452.2 333.4L452.5 333.7L452.8 266.4L453.0 273.0L453.2 334.2L453.5 334.5L453.8 274.6L454.0 275.5L454.2 341.4L454.5 341.4L454.8 277.0L455.0 285.0L455.2 341.0L455.5 341.1L455.8 286.5L456.0 277.9L456.2 338.7L456.5 338.9L456.8 279.5L457.0 261.5L457.2 351.5L457.5 352.7L457.8 262.2L458.0 281.0L458.2 339.5L458.5 340.6L458.8 281.7L459.0 268.9L459.2 343.4L459.5 344.5L459.8 269.6L460.0 290.5L460.2 348.6L460.5 349.7L460.8 291.3L461.0 298.5L461.2 347.4L461.5 348.5L461.8 299.3L462.0 292.2L462.2 353.1L462.5 354.2L462.8 292.9L463.0 302.1L463.2 365.5L463.5 365.2L463.8 301.8L464.0 291.3L464.2 352.7L464.5 352.1L464.8 291.4L465.0 292.8L465.2 353.3L465.5 352.8L465.8 292.8L466.0 274.5L466.2 348.5L466.5 347.9L466.8 272.6L467.0 283.3L467.2 357.5L467.5 357.1L467.8 281.7L468.0 272.2L468.2 341.7L468.5 341.0L468.8 270.4L469.0 290.3L469.2 341.2L469.5 340.6L469.8 288.9L470.0 267.6L470.2 361.5L470.5 361.8L470.8 266.1L471.0 279.4L471.2 358.9L471.5 359.2L471.8 278.3L472.0 280.6L472.2 341.8L472.5 342.0L472.8 279.7L473.0 248.5L473.2 346.3L473.5 346.6L473.8 248.9L474.0 273.9L474.2 352.9L474.5 353.2L474.8 274.2L475.0 272.6L475.2 354.4L475.5 354.6L475.8 272.9L476.0 274.3L476.2 351.8L476.5 352.0L476.8 274.6L477.0 251.5L477.2 365.5L477.5 364.0L477.8 252.6L478.0 262.9L478.2 342.1L478.5 341.2L478.8 263.8L479.0 275.5L479.2 343.3L479.5 342.3L479.8 276.3L480.0 284.4L480.2 337.3L480.5 336.5L480.8 285.0L481.0 266.1L481.2 338.1L481.5 337.2L481.8 267.0L482.0 262.5L482.2 352.3L482.5 353.7L482.8 264.2L483.0 296.9L483.2 343.9L483.5 345.3L483.8 298.4L484.0 294.0L484.2 349.9L484.5 351.3L484.8 295.5L485.0 301.7L485.2 357.3L485.5 358.7L485.8 303.2L486.0 304.6L486.2 350.1L486.5 351.5L486.8 306.1L487.0 277.3L487.2 365.0L487.5 364.2L487.8 275.2L488.0 290.3L488.2 348.0L488.5 347.1L488.8 288.6L489.0 293.7L489.2 346.0L489.5 345.1L489.8 292.1L490.0 277.0L490.2 352.2L490.5 351.4L490.8 275.1L491.0 287.4L491.2 343.6L491.5 342.7L491.8 285.8L492.0 256.5L492.2 347.7L492.5 347.3L492.8 258.8L493.0 295.7L493.2 355.5L493.5 355.9L493.8 297.3L494.0 297.9L494.2 348.8L494.5 349.3L494.8 299.6L495.0 289.4L495.2 348.9L495.5 349.5L495.8 291.3L496.0 286.8L496.2 345.3L496.5 346.0L496.8 288.8L497.0 278.1L497.2 344.2L497.5 344.3L497.8 277.4L498.0 294.3L498.2 350.1L498.5 350.3L498.8 293.7L499.0 296.6L499.2 354.0L499.5 354.3L499.8 296.1L500.0 301.0L500.2 361.5L500.5 361.9L500.8 300.5L501.0 291.4L501.2 351.9L501.5 352.1L501.8 290.8L502.0 271.9L502.2 356.5L502.5 357.0L502.8 272.6L503.0 277.2L503.2 362.6L503.5 362.9L503.8 277.9L504.0 294.7L504.2 356.1L504.5 356.6L504.8 295.5L505.0 303.5L505.2 356.4L505.5 356.9L505.8 304.3L506.0 283.6L506.2 357.6L506.5 358.1L506.8 284.3L507.0 279.9L507.2 366.6L507.5 366.8L507.8 282.2L508.0 302.5L508.2 360.6L508.5 360.8L508.8 304.1L509.0 296.8L509.2 357.1L509.5 357.3L509.8 298.7L510.0 311.1L510.2 355.9L510.5 356.2L510.8 312.6L511.0 318.9L511.2 355.0L511.5 355.2L511.8 320.2L512.0 301.9L512.2 360.9L512.5 361.1L512.8 302.6L513.0 324.1L513.2 368.5L513.5 368.7L513.8 324.6L514.0 317.5L514.2 362.8L514.5 363.0L514.8 318.1L515.0 317.7L515.2 356.7L515.5 356.9L515.8 318.3L516.0 323.3L516.2 356.9L516.5 357.2L516.8 323.8L517.0 309.2L517.2 365.1L517.5 365.3L517.8 310.3L518.0 325.1L518.2 359.5L518.5 360.0L518.8 326.1L519.0 324.6L519.2 361.0L519.5 361.5L519.8 325.6L520.0 333.6L520.2 371.5L520.5 372.0L520.8 334.5L521.0 328.9L521.2 371.1L521.5 371.7L521.8 329.9L522.0 320.7L522.2 363.6L522.5 364.2L522.8 322.7L523.0 337.7L523.2 363.9L523.5 364.9L523.8 339.5L524.0 333.5L524.2 371.2L524.5 371.9L524.8 335.3L525.0 346.7L525.2 368.2L525.5 369.2L525.8 348.4L526.0 350.0L526.2 375.1L526.5 375.7L526.8 351.7L527.0 349.9L527.2 378.7L527.5 379.0L527.8 351.7L528.0 344.5L528.2 376.1L528.5 376.9L528.8 346.2L529.0 353.7L529.2 377.5L529.5 378.2L529.8 355.5L530.0 360.7L530.2 379.2L530.5 379.9L530.8 362.5L531.0 356.7L531.2 380.2L531.5 381.1L531.8 358.4L532.0 371.7L532.2 381.7L532.5 381.9L532.8 372.5L533.0 372.0L533.2 382.5L533.5 382.1L533.8 372.8L534.0 374.2L534.2 381.6L534.5 381.4L534.8 375.0L535.0 368.5L535.2 381.2L535.5 381.0L535.8 367.8L536.0 374.0L536.2 380.7L536.5 380.5L536.8 373.7L537.0 373.2L537.2 379.8L537.5 379.1L537.8 372.1L538.0 367.2L538.2 378.4L538.5 377.6L538.8 366.3L539.0 368.9L539.2 377.4L539.5 376.8L539.8 367.8L540.0 367.3L540.2 375.6L540.5 375.1L540.8 366.6L541.0 363.4L541.2 374.8L541.5 374.3L541.8 362.6L542.0 358.4L542.2 373.7L542.5 373.2L542.8 358.1L543.0 361.3L543.2 372.2L543.5 371.6L543.8 360.8L544.0 361.7L544.2 370.5L544.5 369.9L544.8 361.2L545.0 360.4L545.2 369.6L545.5 369.3L545.8 360.2L546.0 360.7L546.2 371.2L546.5 370.9L546.8 360.5L547.0 358.8L547.2 371.6L547.5 371.8L547.8 358.6L548.0 360.1L548.2 368.8L548.5 368.8L548.8 359.9L549.0 358.1L549.2 370.3L549.5 370.5L549.8 357.9L550.0 354.5L550.2 369.2L550.5 369.2L550.8 354.2L551.0 357.7L551.2 370.2L551.5 370.3L551.8 357.4L552.0 357.6L552.2 371.3L552.5 371.4L552.8 357.4L553.0 356.8L553.2 370.2L553.5 370.3L553.8 356.6L554.0 352.8L554.2 369.7L554.5 369.8L554.8 352.5L555.0 355.2L555.2 370.2L555.5 370.3L555.8 355.0L556.0 356.5L556.2 371.9L556.5 372.0L556.8 356.3L557.0 357.6L557.2 375.5L557.5 375.5L557.8 357.4L558.0 355.0L558.2 371.6L558.5 371.6L558.8 354.8L559.0 356.9L559.2 373.0L559.5 373.0L559.8 356.8L560.0 348.5L560.2 372.0L560.5 372.1L560.8 349.1L561.0 355.1L561.2 373.2L561.5 373.3L561.8 355.6L562.0 358.0L562.2 371.4L562.5 371.6L562.8 358.5L563.0 353.0L563.2 371.1L563.5 371.3L563.8 353.6L564.0 360.2L564.2 372.4L564.5 372.5L564.8 360.6L565.0 359.5L565.2 373.1L565.5 373.1L565.8 360.0L566.0 358.5L566.2 372.4L566.5 372.6L566.8 359.0L567.0 359.4L567.2 375.4L567.5 375.2L567.8 359.8L568.0 358.5L568.2 372.8L568.5 372.5L568.8 357.8L569.0 362.3L569.2 372.7L569.5 372.5L569.8 361.8L570.0 359.8L570.2 370.2L570.5 369.9L570.8 359.3L571.0 358.1L571.2 371.2L571.5 371.0L571.8 357.5L572.0 357.3L572.2 371.1L572.5 370.9L572.8 356.7L573.0 352.4L573.2 369.1L573.5 368.7L573.8 351.7L574.0 356.2L574.2 369.5L574.5 369.1L574.8 355.4L575.0 348.5L575.2 367.0L575.5 366.5L575.8 343.5L576.0 345.7L576.2 367.9L576.5 367.5L576.8 342.2L577.0 336.1L577.2 371.5L577.5 371.5L577.8 332.2L578.0 333.2L578.2 366.8L578.5 366.5L578.8 329.9L579.0 308.5L579.2 367.0L579.5 367.0L579.8 312.2L580.0 328.1L580.2 366.0L580.5 366.1L580.8 330.7L581.0 338.6L581.2 365.6L581.5 365.6L581.8 340.6L582.0 332.7L582.2 368.0L582.5 368.0L582.8 336.2L583.0 338.5L583.2 371.5L583.5 371.1L583.8 335.8L584.0 345.1L584.2 363.8L584.5 363.6L584.8 344.0L585.0 338.4L585.2 364.8L585.5 364.3L585.8 336.4L586.0 338.6L586.2 364.2L586.5 363.7L586.8 337.0L587.0 318.4L587.2 362.1L587.5 361.6L587.8 318.2L588.0 334.6L588.2 363.9L588.5 363.4L588.8 334.1L589.0 329.4L589.2 365.6L589.5 365.2L589.8 329.0L590.0 332.3L590.2 358.0L590.5 357.5L590.8 331.8L591.0 319.0L591.2 358.8L591.5 358.3L591.8 318.8L592.0 317.2L592.2 356.0L592.5 356.0L592.8 318.4L593.0 333.7L593.2 363.5L593.5 363.9L593.8 334.6L594.0 325.1L594.2 357.3L594.5 357.8L594.8 326.2L595.0 336.7L595.2 358.6L595.5 359.1L595.8 337.6L596.0 339.5L596.2 363.1L596.5 363.5L596.8 340.3L597.0 329.1L597.2 366.0L597.5 366.5L597.8 330.2L598.0 338.1L598.2 360.0L598.5 360.5L598.8 339.0L599.0 340.5L599.2 363.2L599.5 363.6L599.8 341.3L600.0 336.4L600.2 364.1L600.5 364.5L600.8 337.4L601.0 343.4L601.2 364.1L601.5 364.5L601.8 344.3L602.0 345.5L602.2 365.0L602.5 365.4L602.8 346.3L603.0 341.5L603.2 371.5L603.5 371.8L603.8 342.0L604.0 343.0L604.2 368.2L604.5 368.5L604.8 343.5L605.0 351.6L605.2 368.8L605.5 369.2L605.8 352.1L606.0 352.3L606.2 369.7L606.5 370.0L606.8 352.8L607.0 352.9L607.2 369.2L607.5 369.6L607.8 353.4L608.0 350.0L608.2 372.5L608.5 372.8L608.8 350.5L609.0 356.5L609.2 371.3L609.5 371.6L609.8 357.0L610.0 348.5L610.2 370.1L610.5 370.5L610.8 345.1L611.0 342.7L611.2 369.7L611.5 369.0L611.8 339.4L612.0 336.6L612.2 368.8L612.5 368.1L612.8 333.3L613.0 331.9L613.2 376.5L613.5 376.2L613.8 328.7L614.0 321.5L614.2 367.3L614.5 367.3L614.8 322.3L615.0 334.7L615.2 367.1L615.5 367.1L615.8 335.4L616.0 341.8L616.2 370.5L616.5 370.4L616.8 342.4L617.0 341.7L617.2 369.7L617.5 369.6L617.8 342.3L618.0 335.0L618.2 369.4L618.5 369.3L618.8 335.8L619.0 345.2L619.2 368.8L619.5 368.7L619.8 345.8L620.0 331.5L620.2 366.1L620.5 366.0L620.8 331.7L621.0 346.2L621.2 365.8L621.5 365.7L621.8 346.4L622.0 346.4L622.2 368.3L622.5 368.2L622.8 346.5L623.0 342.3L623.2 371.5L623.5 371.6L623.8 342.5L624.0 342.6L624.2 365.2L624.5 365.3L624.8 342.8L625.0 344.4L625.2 371.5L625.5 371.6L625.8 344.5L626.0 346.2L626.2 366.2L626.5 365.9L626.8 345.9L627.0 333.3L627.2 366.9L627.5 366.7L627.8 331.3L628.0 339.8L628.2 366.0L628.5 365.8L628.8 338.3L629.0 341.2L629.2 365.6L629.5 365.4L629.8 339.9L630.0 337.5L630.2 370.6L630.5 370.6L630.8 336.2L631.0 330.3L631.2 371.8L631.5 371.8L631.8 328.8L632.0 313.5L632.2 367.3L632.5 367.7L632.8 316.2L633.0 333.9L633.2 373.5L633.5 373.9L633.8 335.8L634.0 326.7L634.2 365.9L634.5 366.6L634.8 329.2L635.0 334.0L635.2 370.1L635.5 370.7L635.8 336.4L636.0 344.0L636.2 375.1L636.5 375.6L636.8 346.0L637.0 335.6L637.2 371.7L637.5 371.8L637.8 330.7L638.0 335.5L638.2 367.6L638.5 367.6L638.8 332.0L639.0 330.2L639.2 369.1L639.5 369.1L639.8 326.9L640.0 327.9L640.2 379.5L640.5 379.5L640.8 325.0L641.0 314.5L641.2 368.8L641.5 368.6L641.8 311.0L642.0 286.5L642.2 366.2L642.5 366.5L642.8 288.8L643.0 317.8L643.2 375.5L643.5 375.6L643.8 319.3L644.0 319.8L644.2 373.9L644.5 374.0L644.8 321.3L645.0 322.1L645.2 370.2L645.5 370.4L645.8 323.6L646.0 307.3L646.2 370.3L646.5 370.4L646.8 309.6L647.0 309.0L647.2 374.0L647.5 374.0L647.8 309.8L648.0 334.6L648.2 373.8L648.5 373.8L648.8 335.0L649.0 337.6L649.2 369.8L649.5 369.8L649.8 338.0L650.0 328.2L650.2 369.0L650.5 369.0L650.8 328.7L651.0 331.3L651.2 374.2L651.5 374.2L651.8 331.8L652.0 316.8L652.2 370.9L652.5 370.9L652.8 317.3L653.0 335.6L653.2 376.8L653.5 376.8L653.8 335.9L654.0 331.4L654.2 369.6L654.5 369.6L654.8 331.8L655.0 328.0L655.2 371.3L655.5 371.3L655.8 328.4L656.0 340.9L656.2 374.5L656.5 374.5L656.8 341.1L657.0 320.3L657.2 374.6L657.5 374.7L657.8 318.2L658.0 329.3L658.2 370.1L658.5 370.2L658.8 327.9L659.0 330.4L659.2 373.1L659.5 373.1L659.8 329.2L660.0 316.2L660.2 377.2L660.5 377.2L660.8 314.5L661.0 309.4L661.2 372.4L661.5 372.4L661.8 307.5L662.0 299.5L662.2 374.1L662.5 374.2L662.8 302.2L663.0 336.5L663.2 375.5L663.5 375.5L663.8 337.7L664.0 337.1L664.2 373.0L664.5 373.0L664.8 338.3L665.0 318.7L665.2 370.7L665.5 370.7L665.8 321.1L666.0 338.0L666.2 371.3L666.5 371.3L666.8 339.4L667.0 323.4L667.2 373.4L667.5 373.3L667.8 321.6L668.0 332.1L668.2 371.2L668.5 371.1L668.8 330.8L669.0 330.1L669.2 374.5L669.5 374.4L669.8 328.7L670.0 331.8L670.2 375.3L670.5 375.2L670.8 330.7L671.0 320.8L671.2 377.8L671.5 377.8L671.8 319.3L672.0 305.4L672.2 370.7L672.5 370.6L672.8 303.6L673.0 332.8L673.2 371.9L673.5 371.9L673.8 332.0L674.0 321.3L674.2 369.3L674.5 369.3L674.8 320.2L675.0 323.6L675.2 371.9L675.5 371.9L675.8 322.6L676.0 312.2L676.2 374.6L676.5 374.6L676.8 311.0L677.0 289.9L677.2 367.6L677.5 367.8L677.8 292.2L678.0 316.1L678.2 369.2L678.5 369.4L678.8 317.7L679.0 326.5L679.2 373.6L679.5 373.7L679.8 327.9L680.0 325.5L680.2 369.7L680.5 369.9L680.8 327.0L681.0 332.6L681.2 371.7L681.5 371.8L681.8 334.0L682.0 311.0L682.2 375.5L682.5 375.4L682.8 310.2L683.0 319.6L683.2 370.4L683.5 370.3L683.8 318.9L684.0 334.6L684.2 369.6L684.5 369.5L684.8 334.1L685.0 335.1L685.2 370.2L685.5 370.1L685.8 334.6L686.0 317.3L686.2 378.1L686.5 378.1L686.8 316.6L687.0 303.6L687.2 374.3L687.5 374.4L687.8 303.7L688.0 327.9L688.2 368.4L688.5 368.5L688.8 328.1L689.0 322.8L689.2 372.0L689.5 372.1L689.8 322.9L690.0 326.8L690.2 375.6L690.5 375.7L690.8 327.0L691.0 304.5L691.2 375.4L691.5 375.5L691.8 305.3L692.0 315.3L692.2 372.2L692.5 372.3L692.8 316.0L693.0 337.4L693.2 373.9L693.5 374.0L693.8 338.0L694.0 330.9L694.2 371.6L694.5 371.8L694.8 331.6L695.0 337.7L695.2 378.7L695.5 378.7L695.8 337.9L696.0 339.6L696.2 375.1L696.5 375.1L696.8 339.8L697.0 313.6L697.2 370.9L697.5 370.8L697.8 313.7L698.0 338.7L698.2 371.3L698.5 371.2L698.8 338.6L699.0 332.9L699.2 371.7L699.5 371.6L699.8 332.9L700.0 337.0L700.2 374.8L700.5 374.8L700.8 337.0L701.0 325.0L701.2 375.3L701.5 375.3L701.8 325.1L702.0 314.1L702.2 374.3L702.5 374.3L702.8 313.5L703.0 327.8L703.2 371.1L703.5 371.1L703.8 327.4L704.0 314.1L704.2 371.5L704.5 371.5L704.8 313.5L705.0 334.8L705.2 374.2L705.5 374.2L705.8 334.5L706.0 334.9L706.2 372.3L706.5 372.3L706.8 334.6L707.0 308.6L707.2 371.2L707.5 370.4L707.8 308.7L708.0 331.1L708.2 374.8L708.5 374.3L708.8 330.1L709.0 323.2L709.2 367.2L709.5 366.3L709.8 322.5L710.0 320.4L710.2 380.5L710.5 379.1L710.8 319.8L711.0 311.9L711.2 372.8L711.5 371.3L711.8 311.8L712.0 309.0L712.2 366.1L712.5 364.8L712.8 308.2L713.0 322.7L713.2 370.3L713.5 368.9L713.8 321.8L714.0 318.2L714.2 360.9L714.5 359.6L714.8 317.3L715.0 314.0L715.2 356.3L715.5 355.0L715.8 313.1L716.0 317.6L716.2 355.3L716.5 354.0L716.8 316.8L717.0 300.9L717.2 361.0L717.5 360.2L717.8 299.9L718.0 312.1L718.2 344.3L718.5 343.6L718.8 311.3L719.0 309.7L719.2 345.6L719.5 344.8L719.8 308.8L720.0 304.4L720.2 349.5L720.5 348.7L720.8 303.6L721.0 294.2L721.2 340.7L721.5 340.9L721.8 295.4L722.0 312.6L722.2 353.4L722.5 353.2L722.8 314.0L723.0 313.2L723.2 345.0L723.5 345.4L723.8 314.5L724.0 313.4L724.2 345.3L724.5 345.6L724.8 314.6L725.0 303.5L725.2 345.3L725.5 345.5L725.8 305.6L726.0 317.5L726.2 345.9L726.5 346.2L726.8 319.2L727.0 318.1L727.2 352.1L727.5 353.0L727.8 320.0L728.0 324.1L728.2 348.6L728.5 349.5L728.8 325.9L729.0 329.8L729.2 349.6L729.5 350.6L729.8 331.4L730.0 324.5L730.2 354.2L730.5 355.0L730.8 325.0L731.0 330.1L731.2 358.5L731.5 359.4L731.8 330.6L732.0 337.1L732.2 355.4L732.5 356.1L732.8 337.6L733.0 337.2L733.2 363.5L733.5 364.1L733.8 337.7L734.0 339.5L734.2 358.8L734.5 359.3L734.8 340.0L735.0 329.5L735.2 358.7L735.5 359.6L735.8 331.7L736.0 343.4L736.2 364.5L736.5 365.2L736.8 345.2L737.0 347.9L737.2 362.9L737.5 363.8L737.8 349.6L738.0 348.1L738.2 365.7L738.5 366.5L738.8 350.0L739.0 348.9L739.2 367.8L739.5 368.5L739.8 351.0L740.0 351.5L740.2 371.5L740.5 372.3L740.8 352.5L741.0 359.4L741.2 371.1L741.5 372.0L741.8 360.4L742.0 360.8L742.2 373.2L742.5 374.1L742.8 361.8L743.0 362.4L743.2 375.3L743.5 376.2L743.8 363.5L744.0 365.6L744.2 376.9L744.5 377.8L744.8 366.6L745.0 366.0L745.2 377.9L745.5 378.3L745.8 366.6L746.0 367.6L746.2 378.7L746.5 379.1L746.8 368.2L747.0 364.2L747.2 382.5L747.5 382.5L747.8 363.7L748.0 368.3L748.2 380.2L748.5 380.2L748.8 368.0L749.0 369.0L749.2 380.5L749.5 380.4L749.8 368.7L750.0 368.3L750.2 378.8L750.5 378.8L750.8 368.0L751.0 367.8L751.2 379.6L751.5 379.5L751.8 367.4L752.0 359.9L752.2 378.5L752.5 378.6L752.8 360.6L753.0 365.7L753.2 379.9L753.5 380.0L753.8 366.3L754.0 368.3L754.2 380.8L754.5 380.8L754.8 368.8L755.0 369.8L755.2 380.0L755.5 380.1L755.8 370.3L756.0 371.9L756.2 380.8L756.5 380.9L756.8 372.4L757.0 372.1L757.2 380.9L757.5 381.0L757.8 372.7L758.0 368.5L758.2 381.2L758.5 381.1L758.8 367.8L759.0 371.8L759.2 380.2L759.5 380.0L759.8 371.2L760.0 370.7L760.2 380.4L760.5 380.3L760.8 370.1L761.0 368.0L761.2 379.2L761.5 379.0L761.8 367.4L762.0 368.6L762.2 379.6L762.5 379.5L762.8 368.0L763.0 365.7L763.2 378.4L763.5 378.2L763.8 365.1L764.0 367.5L764.2 380.5L764.5 380.4L764.8 367.0L765.0 358.5L765.2 380.0L765.5 379.9L765.8 358.1L766.0 363.1L766.2 380.1L766.5 380.0L766.8 362.7L767.0 363.4L767.2 379.8L767.5 379.7L767.8 363.0L768.0 364.0L768.2 378.0L768.5 377.9L768.8 363.6L769.0 362.2L769.2 378.1L769.5 377.9L769.8 361.8L770.0 360.6L770.2 379.2L770.5 379.1L770.8 360.2L771.0 353.9L771.2 377.7L771.5 377.5L771.8 354.6L772.0 362.0L772.2 377.1L772.5 377.4L772.8 362.7L773.0 363.9L773.2 378.9L773.5 379.1L773.8 364.6L774.0 362.9L774.2 377.8L774.5 378.1L774.8 363.6L775.0 364.7L775.2 378.0L775.5 378.3L775.8 365.4L776.0 361.2L776.2 380.0L776.5 380.2L776.8 361.8L777.0 362.0L777.2 382.5L777.5 382.5L777.8 362.8L778.0 369.5L778.2 381.7L778.5 381.7L778.8 370.0L779.0 369.5L779.2 380.3L779.5 380.3L779.8 370.1L780.0 370.1L780.2 381.0L780.5 381.1L780.8 370.7L781.0 368.8L781.2 379.8L781.5 379.9L781.8 369.5L782.0 369.2L782.2 382.5L782.5 382.5L782.8 368.6L783.0 372.1L783.2 382.1L783.5 382.1L783.8 371.7L784.0 371.1L784.2 380.9L784.5 380.8L784.8 370.7L785.0 370.9L785.2 381.0L785.5 381.0L785.8 370.5L786.0 370.6L786.2 380.1L786.5 380.1L786.8 370.2L787.0 365.8L787.2 379.4L787.5 379.3L787.8 365.3L788.0 368.6L788.2 379.2L788.5 379.1L788.8 368.2L789.0 362.7L789.2 379.0L789.5 378.9L789.8 362.2L790.0 366.2L790.2 378.7L790.5 378.6L790.8 365.8L791.0 364.1L791.2 377.8L791.5 377.7L791.8 363.6L792.0 358.6L792.2 379.4L792.5 379.7L792.8 358.7L793.0 361.1L793.2 380.8L793.5 380.9L793.8 361.3L794.0 367.7L794.2 380.9L794.5 381.0L794.8 368.1L795.0 367.6L795.2 380.7L795.5 381.0L795.8 368.0L796.0 370.5L796.2 380.7L796.5 381.1L796.8 371.1L797.0 362.8L797.2 381.2L797.5 380.9L797.8 362.8L798.0 369.1L798.2 381.3L798.5 381.2L798.8 368.9L799.0 362.4L799.2 380.9L799.5 380.7L799.8 362.5L800.0 367.3L800.2 379.5L800.5 379.3L800.8 367.1L801.0 367.1L801.2 381.2L801.5 381.1L801.8 366.9L802.0 361.7L802.2 379.2L802.5 379.3L802.8 362.1L803.0 366.7L803.2 379.3L803.5 379.5L803.8 367.1L804.0 368.6L804.2 380.6L804.5 380.7L804.8 369.0L805.0 370.5L805.2 380.2L805.5 380.3L805.8 370.9L806.0 371.3L806.2 380.1L806.5 380.3L806.8 371.7L807.0 367.7L807.2 380.2L807.5 380.2L807.8 368.0L808.0 371.0L808.2 380.5L808.5 380.5L808.8 371.3L809.0 372.5L809.2 380.5L809.5 380.5L809.8 372.7L810.0 373.1L810.2 381.2L810.5 381.2L810.8 373.3L811.0 370.3L811.2 381.4L811.5 381.4L811.8 370.6L812.0 372.8L812.2 381.3L812.5 381.4L812.8 373.1L813.0 369.5L813.2 381.5L813.5 381.3L813.8 368.4L814.0 371.2L814.2 381.2L814.5 381.1L814.8 370.2L815.0 371.7L815.2 380.6L815.5 380.4L815.8 370.9L816.0 367.3L816.2 379.5L816.5 379.2L816.8 366.3L817.0 365.4L817.2 380.0L817.5 379.8L817.8 364.4L818.0 361.3L818.2 380.6L818.5 380.5L818.8 360.3L819.0 360.9L819.2 378.8L819.5 378.6L819.8 359.9L820.0 354.5L820.2 377.3L820.5 377.0L820.8 353.4L821.0 361.1L821.2 378.8L821.5 378.6L821.8 360.3L822.0 349.8L822.2 378.5L822.5 378.8L822.8 350.2L823.0 360.0L823.2 377.9L823.5 378.2L823.8 360.6L824.0 363.1L824.2 379.2L824.5 379.5L824.8 363.7L825.0 364.0L825.2 382.0L825.5 382.1L825.8 364.6L826.0 365.3L826.2 380.1L826.5 380.4L826.8 365.9L827.0 363.3L827.2 380.0L827.5 379.9L827.8 363.5L828.0 364.2L828.2 379.5L828.5 379.4L828.8 364.3L829.0 362.3L829.2 380.8L829.5 380.7L829.8 362.5L830.0 366.0L830.2 378.9L830.5 378.8L830.8 366.1L831.0 365.4L831.2 378.9L831.5 378.8L831.8 365.5L832.0 366.0L832.2 380.2L832.5 380.1L832.8 366.1L833.0 359.5L833.2 378.1L833.5 378.2L833.8 359.7L834.0 365.8L834.2 378.5L834.5 378.6L834.8 366.0L835.0 365.4L835.2 379.2L835.5 379.3L835.8 365.7L836.0 366.2L836.2 381.3L836.5 381.3L836.8 366.4L837.0 368.8L837.2 378.8L837.5 378.9L837.8 369.0L838.0 368.6L838.2 380.5L838.5 380.6L838.8 368.8L839.0 367.7L839.2 379.4L839.5 379.5L839.8 367.9L840.0 367.6L840.2 381.0L840.5 381.0L840.8 367.8L841.0 367.6L841.2 379.6L841.5 379.7L841.8 367.8L842.0 369.8L842.2 380.1L842.5 380.1L842.8 370.0L843.0 369.7L843.2 381.3L843.5 381.3L843.8 369.9L844.0 371.4L844.2 382.0L844.5 382.0L844.8 371.5L845.0 370.0L845.2 380.5L845.5 380.5L845.8 370.1L846.0 371.0L846.2 380.5L846.5 380.5L846.8 371.1L847.0 370.5L847.2 380.7L847.5 380.7L847.8 370.6L848.0 370.5L848.2 381.3L848.5 381.3L848.8 370.6L849.0 372.1L849.2 380.5L849.5 380.5L849.8 372.2L850.0 366.5L850.2 381.3L850.5 381.2L850.8 366.2L851.0 366.4L851.2 380.1L851.5 380.0L851.8 366.1L852.0 369.8L852.2 380.7L852.5 380.6L852.8 369.6L853.0 368.6L853.2 380.7L853.5 380.7L853.8 368.4L854.0 366.1L854.2 380.7L854.5 380.7L854.8 365.9L855.0 370.7L855.2 380.2L855.5 380.1L855.8 370.5L856.0 370.3L856.2 380.7L856.5 380.7L856.8 370.1L857.0 366.9L857.2 379.2L857.5 379.1L857.8 366.7L858.0 367.3L858.2 381.7L858.5 381.7L858.8 367.1L859.0 364.6L859.2 381.9L859.5 381.8L859.8 364.3L860.0 361.5L860.2 379.9L860.5 379.9L860.8 361.4L861.0 368.1L861.2 379.3L861.5 379.2L861.8 368.0L862.0 365.8L862.2 381.1L862.5 381.1L862.8 365.7L863.0 365.7L863.2 379.2L863.5 379.1L863.8 365.6L864.0 364.8L864.2 380.5L864.5 380.5L864.8 364.6L865.0 365.5L865.2 380.4L865.5 380.4L865.8 365.4L866.0 366.2L866.2 378.1L866.5 378.1L866.8 366.1L867.0 364.1L867.2 379.6L867.5 379.6L867.8 363.9L868.0 365.8L868.2 380.2L868.5 380.2L868.8 365.7L869.0 364.3L869.2 377.9L869.5 377.9L869.8 364.1L870.0 358.5L870.2 380.3L870.5 380.3L870.8 358.8L871.0 366.2L871.2 382.0L871.5 382.0L871.8 366.4L872.0 365.4L872.2 379.3L872.5 379.3L872.8 365.6L873.0 361.9L873.2 378.7L873.5 378.8L873.8 362.2L874.0 365.4L874.2 380.0L874.5 380.0L874.8 365.6L875.0 363.0L875.2 378.8L875.5 378.8L875.8 363.3L876.0 364.0L876.2 381.6L876.5 381.6L876.8 364.3L877.0 367.6L877.2 379.3L877.5 379.3L877.8 367.9L878.0 368.2L878.2 380.9L878.5 380.9L878.8 368.4L879.0 368.9L879.2 379.7L879.5 379.7L879.8 369.1L880.0 364.5L880.2 382.5L880.5 382.2L880.8 363.3L881.0 368.8L881.2 379.5L881.5 379.4L881.8 368.2L882.0 361.1L882.2 379.8L882.5 379.6L882.8 360.0L883.0 365.0L883.2 380.5L883.5 380.2L883.8 363.7L884.0 361.9L884.2 378.5L884.5 377.9L884.8 360.6L885.0 354.5L885.2 377.2L885.5 376.6L885.8 353.3L886.0 359.4L886.2 376.8L886.5 376.3L886.8 358.0L887.0 347.5L887.2 378.2L887.5 377.8L887.8 345.7L888.0 353.2L888.2 374.0L888.5 373.5L888.8 352.0L889.0 348.6L889.2 371.0L889.5 370.5L889.8 347.2L890.0 350.5L890.2 370.5L890.5 370.0L890.8 349.3L891.0 346.2L891.2 370.9L891.5 370.4L891.8 344.9L892.0 333.9L892.2 372.6L892.5 372.2L892.8 332.3L893.0 336.5L893.2 369.3L893.5 368.8L893.8 335.1L894.0 340.1L894.2 363.8L894.5 363.3L894.8 338.9L895.0 319.5L895.2 371.5L895.5 371.3L895.8 320.7L896.0 334.6L896.2 364.9L896.5 364.7L896.8 335.2L897.0 339.6L897.2 364.1L897.5 363.9L897.8 340.1L898.0 341.8L898.2 363.1L898.5 362.9L898.8 342.2L899.0 336.8L899.2 363.2L899.5 363.0L899.8 337.6L900.0 331.5L900.2 365.1L900.5 364.9L900.8 331.8L901.0 339.7L901.2 363.0L901.5 362.8L901.8 339.8L902.0 341.4L902.2 361.3L902.5 361.1L902.8 341.5L903.0 343.1L903.2 368.5L903.5 368.1L903.8 343.1L904.0 337.0L904.2 365.3L904.5 364.9L904.8 337.2L905.0 334.5L905.2 360.5L905.5 359.3L905.8 329.4L906.0 334.7L906.2 356.4L906.5 355.0L906.8 330.9L907.0 322.4L907.2 358.1L907.5 357.1L907.8 318.1L908.0 315.4L908.2 355.6L908.5 354.6L908.8 311.2L909.0 314.4L909.2 353.6L909.5 352.5L909.8 310.7L910.0 304.1L910.2 343.9L910.5 342.4L910.8 300.2L911.0 288.9L911.2 342.3L911.5 340.9L911.8 284.7L912.0 267.6L912.2 361.1L912.5 360.5L912.8 269.4L913.0 288.0L913.2 345.6L913.5 345.5L913.8 289.4L914.0 278.4L914.2 341.9L914.5 341.9L914.8 280.1L915.0 292.7L915.2 339.5L915.5 339.6L915.8 294.1L916.0 298.0L916.2 343.9L916.5 343.7L916.8 299.3L917.0 283.7L917.2 349.7L917.5 349.0L917.8 282.4L918.0 296.5L918.2 338.5L918.5 337.7L918.8 295.2L919.0 298.7L919.2 341.8L919.5 341.0L919.8 297.5L920.0 289.3L920.2 351.5L920.5 351.9L920.8 288.0L921.0 295.7L921.2 342.4L921.5 342.5L921.8 294.5L922.0 271.6L922.2 335.8L922.5 336.5L922.8 271.9L923.0 288.6L923.2 344.7L923.5 345.3L923.8 289.2L924.0 293.4L924.2 340.0L924.5 340.7L924.8 294.0L925.0 288.9L925.2 340.7L925.5 341.4L925.8 289.4L926.0 285.5L926.2 346.9L926.5 347.5L926.8 286.0L927.0 293.8L927.2 356.1L927.5 356.5L927.8 294.4L928.0 274.5L928.2 358.5L928.5 358.0L928.8 271.5L929.0 292.2L929.2 347.9L929.5 346.7L929.8 289.1L930.0 276.0L930.2 341.9L930.5 340.5L930.8 272.9L931.0 281.5L931.2 344.1L931.5 343.0L931.8 278.4L932.0 279.4L932.2 333.7L932.5 332.2L932.8 276.3L933.0 244.5L933.2 338.3L933.5 337.8L933.8 239.5L934.0 234.5L934.2 333.6L934.5 333.0L934.8 230.2L935.0 254.5L935.2 351.5L935.5 351.9L935.8 251.8L936.0 253.3L936.2 345.9L936.5 346.2L936.8 250.8L937.0 212.6L937.2 331.7L937.5 331.7L937.8 214.4L938.0 254.0L938.2 345.0L938.5 345.4L938.8 255.1L939.0 258.1L939.2 322.5L939.5 323.0L939.8 259.2L940.0 223.5L940.2 355.5L940.5 354.8L940.8 224.2L941.0 251.8L941.2 348.2L941.5 347.6L941.8 252.5L942.0 247.7L942.2 326.6L942.5 326.4L942.8 248.4L943.0 243.8L943.2 330.8L943.5 330.1L943.8 244.2L944.0 229.5L944.2 324.3L944.5 323.7L944.8 229.8L945.0 255.7L945.2 332.5L945.5 331.8L945.8 255.6L946.0 262.3L946.2 326.7L946.5 326.1L946.8 262.1L947.0 262.7L947.2 345.2L947.5 344.6L947.8 262.5L948.0 231.5L948.2 322.8L948.5 322.1L948.8 228.6L949.0 251.0L949.2 318.2L949.5 317.5L949.8 249.0L950.0 246.6L950.2 321.8L950.5 321.1L950.8 244.5L951.0 250.3L951.2 315.1L951.5 314.4L951.8 248.5L952.0 208.5L952.2 315.2L952.5 314.5L952.8 210.5L953.0 247.5L953.2 338.5L953.5 338.3L953.8 248.4L954.0 243.2L954.2 319.0L954.5 318.9L954.8 244.3L955.0 243.3L955.2 313.3L955.5 313.2L955.8 244.5L956.0 224.5L956.2 319.9L956.5 319.8L956.8 217.0L957.0 243.8L957.2 313.3L957.5 313.2L957.8 240.3L958.0 194.5L958.2 322.6L958.5 322.4L958.8 195.0L959.0 200.4L959.2 308.9L959.5 308.6L959.8 200.9L960.0 228.1L960.2 335.5L960.5 335.2L960.8 228.2L961.0 228.8L961.2 311.2L961.5 310.8L961.8 228.9L962.0 196.7L962.2 324.0L962.5 323.7L962.8 193.6L963.0 237.5L963.2 305.6L963.5 305.3L963.8 236.1L964.0 184.5L964.2 309.0L964.5 308.7L964.8 185.2L965.0 232.8L965.2 323.4L965.5 323.1L965.8 232.9L966.0 228.1L966.2 313.7L966.5 313.4L966.8 228.3L967.0 217.9L967.2 331.6L967.5 331.8L967.8 218.2L968.0 235.9L968.2 315.3L968.5 315.3L968.8 236.0L969.0 191.5L969.2 317.7L969.5 318.0L969.8 194.6L970.0 227.5L970.2 308.9L970.5 309.4L970.8 229.7L971.0 236.9L971.2 314.3L971.5 314.6L971.8 238.9L972.0 218.0L972.2 320.4L972.5 320.7L972.8 220.8L973.0 213.1L973.2 333.5L973.5 332.9L973.8 210.9L974.0 232.8L974.2 312.9L974.5 312.5L974.8 231.4L975.0 242.1L975.2 314.3L975.5 313.9L975.8 241.0L976.0 199.5L976.2 303.6L976.5 303.2L976.8 201.0L977.0 235.3L977.2 315.6L977.5 315.1L977.8 236.0L978.0 230.9L978.2 308.1L978.5 308.5L978.8 232.7L979.0 221.1L979.2 322.2L979.5 321.8L979.8 222.7L980.0 211.5L980.2 325.5L980.5 326.5L980.8 217.2L981.0 244.1L981.2 319.0L981.5 320.3L981.8 248.7L982.0 234.5L982.2 317.3L982.5 318.7L982.8 239.0L983.0 263.3L983.2 322.1L983.5 323.4L983.8 266.9L984.0 254.6L984.2 323.0L984.5 324.4L984.8 259.0L985.0 261.5L985.2 335.5L985.5 337.6L985.8 263.2L986.0 285.8L986.2 332.8L986.5 334.9L986.8 287.7L987.0 286.6L987.2 331.1L987.5 332.8L987.8 288.1L988.0 279.2L988.2 336.2L988.5 338.0L988.8 280.8L989.0 298.7L989.2 344.1L989.5 346.0L989.8 300.1L990.0 278.5L990.2 343.5L990.5 345.3L990.8 279.1L991.0 302.7L991.2 348.5L991.5 350.4L991.8 303.7L992.0 297.0L992.2 363.0L992.5 362.2L992.8 297.4L993.0 303.6L993.2 353.7L993.5 353.1L993.8 303.9L994.0 291.0L994.2 349.6L994.5 349.0L994.8 291.5L995.0 284.5L995.2 349.4L995.5 348.8L995.8 285.9L996.0 299.8L996.2 341.7L996.5 341.3L996.8 300.7L997.0 311.4L997.2 356.1L997.5 357.1L997.8 312.5L998.0 311.9L998.2 349.8L998.5 350.8L998.8 313.1L999.0 300.7L999.2 346.9L999.5 347.9L999.8 302.0L1000.0 298.5L1000.2 354.1L1000.5 355.1L1000.8 299.2L1001.0 316.7L1001.2 357.3L1001.5 358.3L1001.8 317.6L1002.0 312.9L1002.2 365.0L1002.5 364.2L1002.8 313.6L1003.0 322.3L1003.2 356.1L1003.5 355.7L1003.8 323.1L1004.0 308.9L1004.2 352.4L1004.5 352.2L1004.8 309.7L1005.0 317.7L1005.2 351.2L1005.5 351.1L1005.8 318.5L1006.0 320.0L1006.2 354.9L1006.5 354.5L1006.8 320.8L1007.0 309.1L1007.2 351.8L1007.5 351.4L1007.8 310.1L1008.0 327.7L1008.2 355.5L1008.5 355.5L1008.8 328.3L1009.0 324.5L1009.2 351.8L1009.5 351.9L1009.8 325.2L1010.0 316.8L1010.2 352.8L1010.5 352.8L1010.8 317.7L1011.0 322.6L1011.2 349.8L1011.5 349.8L1011.8 323.4L1012.0 315.9L1012.2 352.1L1012.5 351.6L1012.8 311.6L1013.0 322.3L1013.2 350.8L1013.5 350.3L1013.8 319.1L1014.0 319.8L1014.2 348.6L1014.5 347.9L1014.8 316.8L1015.0 308.8L1015.2 344.3L1015.5 343.4L1015.8 305.6L1016.0 281.5L1016.2 342.9L1016.5 342.0L1016.8 281.2L1017.0 294.2L1017.2 355.4L1017.5 355.1L1017.8 293.9L1018.0 300.6L1018.2 342.4L1018.5 342.1L1018.8 300.3L1019.0 282.7L1019.2 345.3L1019.5 345.1L1019.8 282.5L1020.0 279.5L1020.2 347.0L1020.5 346.7L1020.8 278.5L1021.0 288.6L1021.2 339.5L1021.5 339.3L1021.8 287.9L1022.0 299.2L1022.2 337.6L1022.5 337.4L1022.8 298.7L1023.0 288.6L1023.2 345.6L1023.5 345.4L1023.8 287.9L1024.0 298.4L1024.2 340.1L1024.5 339.9L1024.8 297.8L1025.0 290.3L1025.2 351.5L1025.5 351.8L1025.8 289.8L1026.0 268.9L1026.2 343.5L1026.5 343.8L1026.8 269.6L1027.0 286.8L1027.2 342.1L1027.5 342.4L1027.8 287.4L1028.0 291.1L1028.2 337.2L1028.5 337.4L1028.8 291.7L1029.0 299.1L1029.2 339.9L1029.5 340.2L1029.8 299.6L1030.0 274.5L1030.2 339.5L1030.5 339.8L1030.8 274.4L1031.0 295.8L1031.2 340.1L1031.5 340.4L1031.8 295.9L1032.0 295.8L1032.2 346.8L1032.5 347.1L1032.8 295.8L1033.0 290.9L1033.2 355.5L1033.5 355.4L1033.8 290.9L1034.0 303.0L1034.2 344.3L1034.5 344.3L1034.8 303.0L1035.0 273.5L1035.2 342.8L1035.5 342.8L1035.8 273.9L1036.0 293.3L1036.2 342.9L1036.5 342.9L1036.8 293.6L1037.0 283.6L1037.2 342.2L1037.5 342.2L1037.8 283.9L1038.0 302.2L1038.2 346.6L1038.5 346.5L1038.8 302.5L1039.0 293.0L1039.2 342.3L1039.5 342.3L1039.8 293.3L1040.0 302.6L1040.2 341.3L1040.5 341.3L1040.8 302.9L1041.0 290.3L1041.2 342.3L1041.5 342.3L1041.8 290.6L1042.0 278.3L1042.2 354.2L1042.5 355.4L1042.8 277.9L1043.0 294.0L1043.2 344.8L1043.5 345.6L1043.8 293.8L1044.0 286.2L1044.2 346.7L1044.5 347.5L1044.8 285.9L1045.0 299.4L1045.2 353.1L1045.5 354.0L1045.8 299.3L1046.0 289.2L1046.2 357.1L1046.5 358.1L1046.8 288.9L1047.0 275.0L1047.2 349.3L1047.5 350.3L1047.8 275.9L1048.0 305.0L1048.2 368.5L1048.5 368.1L1048.8 305.9L1049.0 282.8L1049.2 360.6L1049.5 360.5L1049.8 283.7L1050.0 302.6L1050.2 355.3L1050.5 355.3L1050.8 303.5L1051.0 288.1L1051.2 357.5L1051.5 357.4L1051.8 289.0L1052.0 282.1L1052.2 352.7L1052.5 351.9L1052.8 279.7L1053.0 307.6L1053.2 351.8L1053.5 351.1L1053.8 305.8L1054.0 294.5L1054.2 356.1L1054.5 355.5L1054.8 292.5L1055.0 298.6L1055.2 350.7L1055.5 350.0L1055.8 296.8L1056.0 296.0L1056.2 354.2L1056.5 353.6L1056.8 294.2L1057.0 260.0L1057.2 361.4L1057.5 361.3L1057.8 260.9L1058.0 275.1L1058.2 350.4L1058.5 350.3L1058.8 275.8L1059.0 297.2L1059.2 347.6L1059.5 347.4L1059.8 297.6L1060.0 274.1L1060.2 346.6L1060.5 346.4L1060.8 274.8L1061.0 277.4L1061.2 343.0L1061.5 342.9L1061.8 278.2L1062.0 269.1L1062.2 351.3L1062.5 351.4L1062.8 270.1L1063.0 302.1L1063.2 351.6L1063.5 351.7L1063.8 303.0L1064.0 277.2L1064.2 344.4L1064.5 344.8L1064.8 278.2L1065.0 293.1L1065.2 351.6L1065.5 351.7L1065.8 294.1L1066.0 302.4L1066.2 355.1L1066.5 355.1L1066.8 303.4L1067.0 279.9L1067.2 358.8L1067.5 359.3L1067.8 282.2L1068.0 310.8L1068.2 348.3L1068.5 348.9L1068.8 312.2L1069.0 306.5L1069.2 348.5L1069.5 349.1L1069.8 308.2L1070.0 318.2L1070.2 355.7L1070.5 356.2L1070.8 319.5L1071.0 306.4L1071.2 356.9L1071.5 357.5L1071.8 308.3L1072.0 301.8L1072.2 355.2L1072.5 355.8L1072.8 302.4L1073.0 318.0L1073.2 359.2L1073.5 359.7L1073.8 318.5L1074.0 324.1L1074.2 354.5L1074.5 355.0L1074.8 324.7L1075.0 319.5L1075.2 355.9L1075.5 356.4L1075.8 320.0L1076.0 320.0L1076.2 364.2L1076.5 364.7L1076.8 320.6L1077.0 322.6L1077.2 368.1L1077.5 367.4L1077.8 323.2L1078.0 308.5L1078.2 360.5L1078.5 359.7L1078.8 308.5L1079.0 326.8L1079.2 356.7L1079.5 355.9L1079.8 326.3L1080.0 321.0L1080.2 357.5L1080.5 356.8L1080.8 320.6L1081.0 315.3L1081.2 351.4L1081.5 350.5L1081.8 315.1L1082.0 307.5L1082.2 361.6L1082.5 361.9L1082.8 305.8L1083.0 319.5L1083.2 357.3L1083.5 357.3L1083.8 318.1L1084.0 303.5L1084.2 350.6L1084.5 350.3L1084.8 301.9L1085.0 315.5L1085.2 349.2L1085.5 348.9L1085.8 314.2L1086.0 306.5L1086.2 352.0L1086.5 351.9L1086.8 305.1L1087.0 291.0L1087.2 355.8L1087.5 356.0L1087.8 290.2L1088.0 307.5L1088.2 361.5L1088.5 361.7L1088.8 307.0L1089.0 306.7L1089.2 355.8L1089.5 356.0L1089.8 306.2L1090.0 310.1L1090.2 365.5L1090.5 365.1L1090.8 309.8L1091.0 309.7L1091.2 349.4L1091.5 349.2L1091.8 309.4L1092.0 304.6L1092.2 350.7L1092.5 350.5L1092.8 304.1L1093.0 281.5L1093.2 354.7L1093.5 354.3L1093.8 281.7L1094.0 305.9L1094.2 350.7L1094.5 350.4L1094.8 305.8L1095.0 305.8L1095.2 352.4L1095.5 352.1L1095.8 305.7L1096.0 306.0L1096.2 347.5L1096.5 347.1L1096.8 305.9L1097.0 301.0L1097.2 351.8L1097.5 351.4L1097.8 301.0L1098.0 297.1L1098.2 351.3L1098.5 350.9L1098.8 297.1L1099.0 304.7L1099.2 350.0L1099.5 349.6L1099.8 304.6L1100.0 284.5L1100.2 358.5L1100.5 358.6L1100.8 283.4L1101.0 298.7L1101.2 345.4L1101.5 345.4L1101.8 297.9L1102.0 301.6L1102.2 346.7L1102.5 346.6L1102.8 300.9L1103.0 302.4L1103.2 349.7L1103.5 349.7L1103.8 301.7L1104.0 294.4L1104.2 348.8L1104.5 348.8L1104.8 293.6L1105.0 273.5L1105.2 349.8L1105.5 349.8L1105.8 273.5L1106.0 300.8L1106.2 340.9L1106.5 340.8L1106.8 300.5L1107.0 296.5L1107.2 343.1L1107.5 343.4L1107.8 296.8L1108.0 277.7L1108.2 346.4L1108.5 346.7L1108.8 277.8L1109.0 301.2L1109.2 350.3L1109.5 350.6L1109.8 301.5L1110.0 273.5L1110.2 361.5L1110.5 360.5L1110.8 274.3L1111.0 295.5L1111.2 352.0L1111.5 351.3L1111.8 296.2L1112.0 293.7L1112.2 344.7L1112.5 343.9L1112.8 294.1L1113.0 282.9L1113.2 348.5L1113.5 347.6L1113.8 283.5L1114.0 296.4L1114.2 341.4L1114.5 340.5L1114.8 296.6L1115.0 281.5L1115.2 337.9L1115.5 337.1L1115.8 280.8L1116.0 301.4L1116.2 342.7L1116.5 341.8L1116.8 300.8L1117.0 288.9L1117.2 333.9L1117.5 332.8L1117.8 288.1L1118.0 287.5L1118.2 334.9L1118.5 333.9L1118.8 286.6L1119.0 293.0L1119.2 336.5L1119.5 335.4L1119.8 292.1L1120.0 274.5L1120.2 341.5L1120.5 341.4L1120.8 272.0L1121.0 288.8L1121.2 333.2L1121.5 332.8L1121.8 286.9L1122.0 278.0L1122.2 329.3L1122.5 328.9L1122.8 276.0L1123.0 259.5L1123.2 327.6L1123.5 327.1L1123.8 258.0L1124.0 276.0L1124.2 325.5L1124.5 325.0L1124.8 274.7L1125.0 281.0L1125.2 327.8L1125.5 327.3L1125.8 279.8L1126.0 275.3L1126.2 326.2L1126.5 325.8L1126.8 274.0L1127.0 272.7L1127.2 324.7L1127.5 324.3L1127.8 271.5L1128.0 244.5L1128.2 326.0L1128.5 325.6L1128.8 239.5L1129.0 266.7L1129.2 322.9L1129.5 322.5L1129.8 264.0L1130.0 224.5L1130.2 338.5L1130.5 338.5L1130.8 220.3L1131.0 232.6L1131.2 321.3L1131.5 321.0L1131.8 229.1L1132.0 241.2L1132.2 324.7L1132.5 324.5L1132.8 238.5L1133.0 199.5L1133.2 315.8L1133.5 315.5L1133.8 198.5L1134.0 240.3L1134.2 317.6L1134.5 317.3L1134.8 239.5L1135.0 243.5L1135.2 316.2L1135.5 316.4L1135.8 243.3L1136.0 207.6L1136.2 325.5L1136.5 325.7L1136.8 206.8L1137.0 191.5L1137.2 333.2L1137.5 333.2L1137.8 194.5L1138.0 211.9L1138.2 327.0L1138.5 327.1L1138.8 214.5L1139.0 220.8L1139.2 321.7L1139.5 321.9L1139.8 223.3L1140.0 229.9L1140.2 338.5L1140.5 339.0L1140.8 232.3L1141.0 251.6L1141.2 325.9L1141.5 326.5L1141.8 253.6L1142.0 219.7L1142.2 329.2L1142.5 329.8L1142.8 220.0L1143.0 251.7L1143.2 334.4L1143.5 334.9L1143.8 252.2L1144.0 253.1L1144.2 332.8L1144.5 333.4L1144.8 253.6L1145.0 221.5L1145.2 324.7L1145.5 325.3L1145.8 230.3L1146.0 265.0L1146.2 331.8L1146.5 332.4L1146.8 270.3L1147.0 252.1L1147.2 331.3L1147.5 331.8L1147.8 253.1L1148.0 275.7L1148.2 329.0L1148.5 329.6L1148.8 276.5L1149.0 281.3L1149.2 327.0L1149.5 327.6L1149.8 282.1L1150.0 282.4L1150.2 348.5L1150.5 348.1L1150.8 282.9L1151.0 269.6L1151.2 326.8L1151.5 326.7L1151.8 270.4L1152.0 261.1L1152.2 333.1L1152.5 332.9L1152.8 260.4L1153.0 275.6L1153.2 332.8L1153.5 332.7L1153.8 275.2L1154.0 283.1L1154.2 343.5L1154.5 343.2L1154.8 282.8L1155.0 280.0L1155.2 340.5L1155.5 340.0L1155.8 279.0L1156.0 272.3L1156.2 339.3L1156.5 338.9L1156.8 271.4L1157.0 252.7L1157.2 329.7L1157.5 329.1L1157.8 249.7L1158.0 248.7L1158.2 330.7L1158.5 330.1L1158.8 245.7L1159.0 268.9L1159.2 331.4L1159.5 330.8L1159.8 266.8L1160.0 259.6L1160.2 341.5L1160.5 341.1L1160.8 257.4L1161.0 228.5L1161.2 326.9L1161.5 326.3L1161.8 228.9L1162.0 264.4L1162.2 318.7L1162.5 318.8L1162.8 265.0L1163.0 262.3L1163.2 316.3L1163.5 316.4L1163.8 262.8L1164.0 258.0L1164.2 323.5L1164.5 323.5L1164.8 258.5L1165.0 231.5L1165.2 320.3L1165.5 320.4L1165.8 231.0L1166.0 255.7L1166.2 321.4L1166.5 321.4L1166.8 255.7L1167.0 229.5L1167.2 318.2L1167.5 318.3L1167.8 232.9L1168.0 262.8L1168.2 335.5L1168.5 336.4L1168.8 265.0L1169.0 268.5L1169.2 328.4L1169.5 329.3L1169.8 270.7L1170.0 269.0L1170.2 329.1L1170.5 330.0L1170.8 271.4L1171.0 264.4L1171.2 323.8L1171.5 324.6L1171.8 267.4L1172.0 258.3L1172.2 332.0L1172.5 332.8L1172.8 253.0L1173.0 267.6L1173.2 339.9L1173.5 340.6L1173.8 263.7L1174.0 274.3L1174.2 342.9L1174.5 343.6L1174.8 271.4L1175.0 270.1L1175.2 330.6L1175.5 330.7L1175.8 267.2L1176.0 253.0L1176.2 327.3L1176.5 327.4L1176.8 249.6L1177.0 203.3L1177.2 350.9L1177.5 349.8L1177.8 194.6L1178.0 223.1L1178.2 325.6L1178.5 323.4L1178.8 216.2L1179.0 168.5L1179.2 319.1L1179.5 316.9L1179.8 166.3L1180.0 211.3L1180.2 320.0L1180.5 318.0L1180.8 208.5L1181.0 205.1L1181.2 338.1L1181.5 336.9L1181.8 202.3L1182.0 155.2L1182.2 313.9L1182.5 312.0L1182.8 153.1L1183.0 214.6L1183.2 338.5L1183.5 339.7L1183.8 213.8L1184.0 200.3L1184.2 308.2L1184.5 309.0L1184.8 199.2L1185.0 142.5L1185.2 315.6L1185.5 316.4L1185.8 148.7L1186.0 211.2L1186.2 340.4L1186.5 341.5L1186.8 214.0L1187.0 173.6L1187.2 313.9L1187.5 315.4L1187.8 179.5L1188.0 179.5L1188.2 350.5L1188.5 350.4L1188.8 183.4L1189.0 204.6L1189.2 325.1L1189.5 325.6L1189.8 208.0L1190.0 227.4L1190.2 321.2L1190.5 321.9L1190.8 230.5L1191.0 236.4L1191.2 319.1L1191.5 319.8L1191.8 239.4L1192.0 208.1L1192.2 334.1L1192.5 334.2L1192.8 207.5L1193.0 246.4L1193.2 339.4L1193.5 339.5L1193.8 246.7L1194.0 238.9L1194.2 324.2L1194.5 324.4L1194.8 239.0L1195.0 204.5L1195.2 322.8L1195.5 323.1L1195.8 209.5L1196.0 240.1L1196.2 332.6L1196.5 332.7L1196.8 243.6L1197.0 260.1L1197.2 348.4L1197.5 348.3L1197.8 262.9L1198.0 234.5L1198.2 334.8L1198.5 335.0L1198.8 236.2L1199.0 259.2L1199.2 325.0L1199.5 325.3L1199.8 260.7L1200.0 264.0L1200.2 334.0L1200.5 334.2L1200.8 265.4L1201.0 269.7L1201.2 332.1L1201.5 332.3L1201.8 271.1L1202.0 266.1L1202.2 324.7L1202.5 324.8L1202.8 267.4L1203.0 251.5L1203.2 326.8L1203.5 326.9L1203.8 250.1L1204.0 271.0L1204.2 334.8L1204.5 334.8L1204.8 270.5L1205.0 274.7L1205.2 329.6L1205.5 329.7L1205.8 274.3L1206.0 262.2L1206.2 326.4L1206.5 326.5L1206.8 261.4L1207.0 268.6L1207.2 345.6L1207.5 345.7L1207.8 267.4L1208.0 268.5L1208.2 340.9L1208.5 340.9L1208.8 267.3L1209.0 270.0L1209.2 331.7L1209.5 331.5L1209.8 268.9L1210.0 249.1L1210.2 324.0L1210.5 323.7L1210.8 247.8L1211.0 244.7L1211.2 323.7L1211.5 323.4L1211.8 243.4L1212.0 227.6L1212.2 334.1L1212.5 334.3L1212.8 229.4L1213.0 265.9L1213.2 325.9L1213.5 326.3L1213.8 267.2L1214.0 255.7L1214.2 332.7L1214.5 333.0L1214.8 257.2L1215.0 238.5L1215.2 335.5L1215.5 335.8L1215.8 240.1L1216.0 265.2L1216.2 334.9L1216.5 335.3L1216.8 266.5L1217.0 251.6L1217.2 348.8L1217.5 349.3L1217.8 253.0L1218.0 272.5L1218.2 332.5L1218.5 333.0L1218.8 273.5L1219.0 271.8L1219.2 337.0L1219.5 337.4L1219.8 273.0L1220.0 254.5L1220.2 333.2L1220.5 333.7L1220.8 254.8L1221.0 275.6L1221.2 339.7L1221.5 340.1L1221.8 276.0L1222.0 268.2L1222.2 339.7L1222.5 340.3L1222.8 268.5L1223.0 278.0L1223.2 332.7L1223.5 333.3L1223.8 278.4L1224.0 265.1L1224.2 332.4L1224.5 332.9L1224.8 265.4L1225.0 279.1L1225.2 342.4L1225.5 343.0L1225.8 279.6L1226.0 286.1L1226.2 340.9L1226.5 341.5L1226.8 286.5L1227.0 259.0L1227.2 358.4L1227.5 358.1L1227.8 259.8L1228.0 280.5L1228.2 343.9L1228.5 343.8L1228.8 281.0L1229.0 283.6L1229.2 341.1L1229.5 341.0L1229.8 284.1L1230.0 290.5L1230.2 336.6L1230.5 336.5L1230.8 291.0L1231.0 281.7L1231.2 342.1L1231.5 342.0L1231.8 282.3L1232.0 288.7L1232.2 347.5L1232.5 347.5L1232.8 289.5L1233.0 268.5L1233.2 355.5L1233.5 356.1L1233.8 269.8L1234.0 295.4L1234.2 355.2L1234.5 355.7L1234.8 296.4L1235.0 288.2L1235.2 349.0L1235.5 349.6L1235.8 289.3L1236.0 282.8L1236.2 341.2L1236.5 341.8L1236.8 284.1L1237.0 299.3L1237.2 358.6L1237.5 359.1L1237.8 300.0L1238.0 281.5L1238.2 350.3L1238.5 350.8L1238.8 280.8L1239.0 294.2L1239.2 346.3L1239.5 346.7L1239.8 293.8L1240.0 301.5L1240.2 349.4L1240.5 349.8L1240.8 301.3L1241.0 280.5L1241.2 345.9L1241.5 346.3L1241.8 279.8L1242.0 294.1L1242.2 365.0L1242.5 364.2L1242.8 293.7L1243.0 274.5L1243.2 348.5L1243.5 348.0L1243.8 272.3L1244.0 290.4L1244.2 342.5L1244.5 342.0L1244.8 289.1L1245.0 296.6L1245.2 355.8L1245.5 355.1L1245.8 295.7L1246.0 287.9L1246.2 349.8L1246.5 349.1L1246.8 286.7L1247.0 278.2L1247.2 344.3L1247.5 343.2L1247.8 276.1L1248.0 285.3L1248.2 349.4L1248.5 348.4L1248.8 283.3L1249.0 284.6L1249.2 344.4L1249.5 343.4L1249.8 282.6L1250.0 243.5L1250.2 351.5L1250.5 352.1L1250.8 247.6L1251.0 257.3L1251.2 342.4L1251.5 343.2L1251.8 261.2L1252.0 278.0L1252.2 349.6L1252.5 350.3L1252.8 281.2L1253.0 290.7L1253.2 336.6L1253.5 337.6L1253.8 293.5L1254.0 298.2L1254.2 342.3L1254.5 343.2L1254.8 300.8L1255.0 284.5L1255.2 350.3L1255.5 351.0L1255.8 285.7L1256.0 307.1L1256.2 349.3L1256.5 350.0L1256.8 308.2L1257.0 306.7L1257.2 350.2L1257.5 350.9L1257.8 307.8L1258.0 291.5L1258.2 361.5L1258.5 360.5L1258.8 291.5L1259.0 307.0L1259.2 352.4L1259.7 300.0L1260.0 109.0L1260.3 330.0L1260.6 118.0L1261.0 320.0L1261.4 150.0L1261.8 310.0L1262.2 185.0L1262.6 300.0L1263.0 215.0L1263.3 295.0" stroke="#bfbf00" stroke-opacity="0.5" stroke-width="3.1"/>
<path d="M188.0 293.4L188.4 274.1L188.8 303.7L189.3 334.1L189.7 306.6L190.1 275.7L190.5 320.9L190.9 285.0L191.4 299.9L191.8 282.9L192.2 285.3L192.6 297.9L193.0 258.4L193.5 292.7L193.9 327.1L194.3 280.3L194.7 308.2L195.1 258.4L195.6 273.3L196.0 292.3L196.4 262.9L196.8 285.5L197.2 247.7L197.7 263.6L198.1 293.8L198.5 283.5L198.9 252.2L199.3 272.6L199.8 249.1L200.2 246.6L200.6 282.3L201.0 318.1L201.4 247.0L201.9 274.6L202.3 253.1L202.7 289.3L203.1 249.8L203.5 292.0L204.0 292.4L204.4 288.7L204.8 245.0L205.2 289.3L205.6 263.0L206.1 265.8L206.5 288.8L206.9 249.5L207.3 286.4L207.7 324.0L208.2 274.3L208.6 328.0L209.0 285.5L209.4 302.4L209.8 270.3L210.3 313.4L210.7 278.2L211.1 307.8L211.5 287.7L211.9 286.8L212.4 326.7L212.8 292.2L213.2 263.7L213.6 302.5L214.0 340.6L214.5 278.8L214.9 295.9L215.3 323.5L215.7 290.6L216.1 315.6L216.6 286.9L217.0 316.5L217.4 323.0L217.8 277.2L218.2 312.1L218.7 290.7L219.1 322.5L219.5 305.8L219.9 269.4L220.3 302.3L220.8 335.1L221.2 325.4L221.6 314.2L222.0 315.9L222.4 290.1L222.9 309.0L223.3 311.0L223.7 301.8L224.1 289.1L224.5 308.8L225.0 282.9L225.4 309.8L225.8 328.5L226.2 281.7L226.6 301.2L227.1 263.5L227.5 297.2L227.9 330.9L228.3 267.8L228.7 315.0L229.2 275.0L229.6 304.7L230.0 276.3L230.4 291.0L230.8 267.6L231.3 315.7L231.7 307.7L232.1 274.2L232.5 297.2L232.9 259.5L233.4 292.5L233.8 326.2L234.2 309.7L234.6 257.7L235.0 300.7L235.5 267.0L235.9 298.8L236.3 255.4L236.7 294.0L237.1 264.5L237.6 272.7L238.0 299.9L238.4 254.0L238.8 282.0L239.2 232.3L239.7 285.3L240.1 237.5L240.5 275.5L240.9 248.9L241.3 274.8L241.8 226.7L242.2 270.3L242.6 312.9L243.0 237.4L243.4 278.2L243.9 244.0L244.3 304.4L244.7 260.4L245.1 254.0L245.5 296.4L246.0 261.0L246.4 285.8L246.8 258.4L247.2 289.0L247.6 263.0L248.1 244.4L248.5 278.6L248.9 311.5L249.3 288.5L249.7 284.8L250.2 276.7L250.6 251.2L251.0 289.6L251.4 254.1L251.8 280.4L252.3 258.5L252.7 255.1L253.1 269.6L253.5 251.8L253.9 236.6L254.4 263.7L254.8 290.1L255.2 276.0L255.6 251.6L256.0 264.7L256.5 270.0L256.9 253.5L257.3 281.3L257.7 259.3L258.1 274.3L258.6 267.2L259.0 271.4L259.4 279.3L259.8 262.7L260.2 283.5L260.7 304.6L261.1 279.7L261.5 295.1L261.9 274.5L262.3 310.3L262.8 278.8L263.2 308.7L263.6 291.0L264.0 316.2L264.4 296.1L264.9 293.6L265.3 313.2L265.7 332.1L266.1 301.2L266.5 309.5L267.0 310.2L267.4 319.0L267.8 302.9L268.2 318.8L268.6 302.6L269.1 327.0L269.5 317.6L269.9 296.5L270.3 316.8L270.7 336.6L271.2 327.4L271.6 337.6L272.0 331.1L272.4 335.2L272.8 315.3L273.3 339.6L273.7 324.9L274.1 342.9L274.5 324.8L274.9 336.7L275.4 324.4L275.8 324.6L276.2 325.6L276.6 321.2L277.0 334.4L277.5 347.4L277.9 341.3L278.3 325.3L278.7 342.2L279.1 334.7L279.6 329.0L280.0 330.6L280.4 349.2L280.8 350.5L281.2 332.6L281.7 348.9L282.1 334.9L282.5 349.8L282.9 338.3L283.3 350.2L283.8 361.8L284.2 353.4L284.6 340.7L285.0 353.4L285.4 354.0L285.9 358.0L286.3 348.5L286.7 347.5L287.1 354.6L287.5 348.3L288.0 355.8L288.4 359.5L288.8 344.6L289.2 362.1L289.6 349.5L290.1 361.9L290.5 350.0L290.9 364.2L291.3 361.8L291.7 356.4L292.2 347.3L292.6 357.6L293.0 348.5L293.4 357.2L293.8 365.9L294.3 359.8L294.7 348.6L295.1 358.3L295.5 362.7L295.9 364.6L296.4 349.4L296.8 354.9L297.2 364.4L297.6 363.3L298.0 356.9L298.5 366.9L298.9 354.8L299.3 361.7L299.7 367.6L300.1 353.1L300.6 356.5L301.0 357.1L301.4 365.1L301.8 357.1L302.2 351.7L302.7 358.1L303.1 351.6L303.5 361.2L303.9 370.6L304.3 369.0L304.8 363.9L305.2 352.8L305.6 363.3L306.0 357.0L306.4 358.7L306.9 364.1L307.3 354.9L307.7 356.6L308.1 357.6L308.5 369.1L309.0 357.5L309.4 368.8L309.8 366.0L310.2 358.0L310.6 369.2L311.1 362.4L311.5 367.4L311.9 362.2L312.3 368.4L312.7 359.4L313.2 358.6L313.6 365.4L314.0 372.3L314.4 361.1L314.8 369.7L315.3 360.8L315.7 370.3L316.1 371.1L316.5 365.3L316.9 373.7L317.4 361.8L317.8 370.0L318.2 364.5L318.6 375.5L319.0 365.4L319.5 371.5L319.9 367.0L320.3 366.4L320.7 372.2L321.1 371.4L321.6 363.4L322.0 370.7L322.4 377.7L322.8 363.8L323.2 364.0L323.7 371.9L324.1 360.7L324.5 369.9L324.9 364.8L325.3 372.6L325.8 363.0L326.2 370.8L326.6 369.4L327.0 372.3L327.4 360.3L327.9 356.7L328.3 363.4L328.7 370.7L329.1 357.8L329.5 356.1L330.0 367.6L330.4 353.2L330.8 351.3L331.2 353.0L331.6 367.8L332.1 360.8L332.5 353.9L332.9 341.8L333.3 349.9L333.7 359.5L334.2 338.8L334.6 347.4L335.0 334.6L335.4 333.1L335.8 314.9L336.3 319.1L336.7 288.8L337.1 312.5L337.5 335.5L337.9 329.0L338.4 306.3L338.8 326.0L339.2 320.4L339.6 315.7L340.0 325.8L340.5 313.8L340.9 330.3L341.3 315.4L341.7 323.2L342.1 325.2L342.6 305.5L343.0 304.4L343.4 319.1L343.8 334.7L344.2 298.2L344.7 314.9L345.1 299.4L345.5 325.7L345.9 307.5L346.3 315.7L346.8 316.5L347.2 296.2L347.6 312.4L348.0 293.7L348.4 319.2L348.9 297.8L349.3 309.1L349.7 294.2L350.1 278.0L350.5 301.6L351.0 325.6L351.4 315.2L351.8 283.5L352.2 302.3L352.6 274.1L353.1 291.4L353.5 275.5L353.9 308.1L354.3 270.2L354.7 301.7L355.2 274.5L355.6 287.8L356.0 272.7L356.4 272.7L356.8 250.9L357.3 278.8L357.7 308.0L358.1 264.4L358.5 280.5L358.9 279.9L359.4 253.1L359.8 283.0L360.2 286.7L360.6 263.8L361.0 285.1L361.5 264.0L361.9 292.9L362.3 260.0L362.7 270.5L363.1 225.6L363.6 261.9L364.0 297.5L364.4 276.1L364.8 231.0L365.2 282.1L365.7 242.8L366.1 263.2L366.5 223.6L366.9 250.3L367.3 228.9L367.8 257.8L368.2 210.8L368.6 241.7L369.0 208.1L369.4 222.5L369.9 182.4L370.3 215.3L370.7 250.3L371.1 221.3L371.5 177.5L372.0 218.1L372.4 203.8L372.8 219.3L373.2 187.4L373.6 187.7L374.1 214.8L374.5 222.7L374.9 190.2L375.3 228.1L375.7 190.9L376.2 226.1L376.6 179.5L377.0 223.0L377.4 265.0L377.8 233.2L378.3 198.6L378.7 230.1L379.1 246.1L379.5 214.8L379.9 236.2L380.4 217.0L380.8 231.1L381.2 204.5L381.6 240.0L382.0 214.4L382.5 235.1L382.9 204.0L383.3 232.7L383.7 262.4L384.1 227.0L384.6 199.0L385.0 239.4L385.4 209.7L385.8 201.5L386.2 199.5L386.7 194.7L387.1 225.7L387.5 195.1L387.9 253.5L388.3 199.7L388.8 232.6L389.2 196.5L389.6 223.9L390.0 210.3L390.4 229.4L390.9 178.8L391.3 226.6L391.7 271.0L392.1 184.5L392.5 205.0L393.0 210.2L393.4 246.2L393.8 198.4L394.2 238.5L394.6 221.1L395.1 236.5L395.5 232.8L395.9 253.8L396.3 223.3L396.7 224.5L397.2 248.4L397.6 275.0L398.0 230.6L398.4 251.9L398.8 238.4L399.3 258.4L399.7 266.9L400.1 236.9L400.5 273.6L400.9 239.2L401.4 269.8L401.8 229.5L402.2 267.8L402.6 306.2L403.0 237.1L403.5 271.2L403.9 253.5L404.3 271.6L404.7 281.9L405.1 252.6L405.6 303.3L406.0 248.6L406.4 287.8L406.8 254.6L407.2 272.2L407.7 244.1L408.1 231.5L408.5 270.9L408.9 310.6L409.3 282.7L409.8 234.7L410.2 243.2L410.6 271.4L411.0 239.8L411.4 278.1L411.9 247.3L412.3 269.7L412.7 248.1L413.1 263.0L413.5 288.9L414.0 233.9L414.4 238.8L414.8 228.6L415.2 270.6L415.6 314.1L416.1 298.0L416.5 254.2L416.9 265.0L417.3 255.0L417.7 252.1L418.2 249.6L418.6 271.7L419.0 260.1L419.4 249.9L419.8 259.5L420.3 285.3L420.7 252.8L421.1 284.1L421.5 239.2L421.9 288.8L422.4 336.9L422.8 310.5L423.2 274.5L423.6 296.4L424.0 264.7L424.5 267.8L424.9 301.4L425.3 254.3L425.7 297.7L426.1 264.8L426.6 312.5L427.0 263.5L427.4 292.1L427.8 263.0L428.2 297.0L428.7 286.3L429.1 262.8L429.5 285.3L429.9 243.5L430.3 281.5L430.8 320.8L431.2 285.1L431.6 270.8L432.0 288.6L432.4 315.7L432.9 322.0L433.3 282.7L433.7 263.0L434.1 307.5L434.5 278.0L435.0 295.2L435.4 263.1L435.8 306.5L436.2 265.9L436.6 244.5L437.1 291.8L437.5 337.6L437.9 328.0L438.3 257.2L438.7 304.6L439.2 279.8L439.6 314.3L440.0 256.5L440.4 302.2L440.8 283.8L441.3 289.9L441.7 302.0L442.1 262.8L442.5 295.8L442.9 261.3L443.4 296.9L443.8 332.3L444.2 259.2L444.6 313.0L445.0 268.7L445.5 300.3L445.9 280.4L446.3 324.0L446.7 279.7L447.1 302.7L447.6 286.4L448.0 313.8L448.4 332.8L448.8 332.6L449.2 298.6L449.7 306.7L450.1 268.8L450.5 304.5L450.9 338.5L451.3 323.6L451.8 318.5L452.2 309.9L452.6 301.5L453.0 335.9L453.4 309.4L453.9 329.4L454.3 310.8L454.7 341.1L455.1 291.4L455.5 332.8L456.0 314.9L456.4 318.1L456.8 294.6L457.2 317.4L457.6 340.7L458.1 332.0L458.5 303.4L458.9 327.9L459.3 309.7L459.7 332.7L460.2 313.3L460.6 335.0L461.0 335.7L461.4 316.5L461.8 316.5L462.3 312.5L462.7 308.2L463.1 301.4L463.5 326.5L463.9 351.1L464.4 339.6L464.8 298.9L465.2 332.3L465.6 309.3L466.0 311.5L466.5 329.4L466.9 309.1L467.3 343.0L467.7 311.1L468.1 300.2L468.6 313.4L469.0 335.5L469.4 312.8L469.8 291.8L470.2 313.6L470.7 335.5L471.1 328.1L471.5 300.4L471.9 326.3L472.3 299.4L472.8 315.5L473.2 306.3L473.6 330.8L474.0 308.0L474.4 328.4L474.9 306.9L475.3 322.8L475.7 297.9L476.1 316.9L476.5 294.4L477.0 315.0L477.4 335.5L477.8 319.8L478.2 308.7L478.6 305.1L479.1 304.1L479.5 314.9L479.9 301.6L480.3 321.7L480.7 294.8L481.2 298.2L481.6 294.5L482.0 315.8L482.4 337.4L482.8 333.2L483.3 302.9L483.7 331.5L484.1 317.8L484.5 332.3L484.9 315.2L485.4 323.9L485.8 348.1L486.2 319.1L486.6 308.3L487.0 327.8L487.5 346.6L487.9 335.8L488.3 322.8L488.7 336.7L489.1 317.4L489.6 339.5L490.0 331.1L490.4 330.8L490.8 306.7L491.2 319.3L491.7 319.6L492.1 298.8L492.5 318.1L492.9 336.7L493.3 312.1L493.8 331.4L494.2 327.3L494.6 317.7L495.0 315.2L495.4 330.9L495.9 314.5L496.3 317.3L496.7 313.5L497.1 327.3L497.5 342.2L498.0 334.0L498.4 319.6L498.8 332.6L499.2 318.2L499.6 326.6L500.1 314.3L500.5 309.8L500.9 331.7L501.3 327.2L501.7 304.6L502.2 325.8L502.6 346.3L503.0 336.7L503.4 341.6L503.8 342.4L504.3 315.4L504.7 344.7L505.1 325.7L505.5 333.9L505.9 321.9L506.4 342.4L506.8 331.1L507.2 330.6L507.6 337.3L508.0 321.5L508.5 336.8L508.9 352.2L509.3 350.5L509.7 335.8L510.1 342.0L510.6 329.6L511.0 355.4L511.4 344.3L511.8 329.0L512.2 328.6L512.7 330.9L513.1 324.6L513.5 340.3L513.9 355.5L514.3 336.4L514.8 350.6L515.2 347.8L515.6 332.1L516.0 336.8L516.4 346.4L516.9 333.4L517.3 350.3L517.7 336.5L518.1 331.6L518.5 344.4L519.0 358.0L519.4 346.0L519.8 337.6L520.2 341.7L520.6 354.9L521.1 342.0L521.5 360.1L521.9 332.9L522.3 351.7L522.7 337.7L523.2 335.1L523.6 353.2L524.0 370.5L524.4 347.5L524.8 344.2L525.3 370.4L525.7 364.2L526.1 366.4L526.5 364.9L526.9 356.7L527.4 375.0L527.8 367.1L528.2 355.4L528.6 368.9L529.0 381.9L529.5 380.6L529.9 363.6L530.3 379.2L530.7 373.2L531.1 372.9L531.6 370.9L532.0 381.1L532.4 390.5L532.8 371.1L533.2 381.7L533.7 387.3L534.1 375.6L534.5 387.4L534.9 387.8L535.3 373.5L535.8 388.3L536.2 374.0L536.6 373.5L537.0 381.1L537.4 388.3L537.9 375.6L538.3 378.5L538.7 372.8L539.1 372.0L539.5 369.9L540.0 364.6L540.4 371.9L540.8 378.6L541.2 365.5L541.6 373.2L542.1 362.6L542.5 369.0L542.9 362.2L543.3 370.8L543.7 362.6L544.2 361.6L544.6 366.0L545.0 361.5L545.4 364.9L545.8 368.5L546.3 360.6L546.7 366.8L547.1 360.2L547.5 366.4L547.9 362.7L548.4 367.9L548.8 359.7L549.2 362.1L549.6 367.4L550.0 362.3L550.5 367.0L550.9 360.9L551.3 364.1L551.7 358.5L552.1 363.4L552.6 368.7L553.0 357.8L553.4 369.1L553.8 361.9L554.2 358.1L554.7 362.7L555.1 369.9L555.5 359.0L555.9 366.1L556.3 368.3L556.8 367.7L557.2 358.1L557.6 363.0L558.0 370.8L558.4 361.9L558.9 357.9L559.3 366.4L559.7 357.6L560.1 354.6L560.5 362.9L561.0 370.9L561.4 370.8L561.8 358.0L562.2 371.3L562.6 358.3L563.1 371.4L563.5 362.5L563.9 363.6L564.3 368.9L564.7 359.3L565.2 371.7L565.6 363.3L566.0 369.7L566.4 363.2L566.8 361.3L567.3 367.3L567.7 372.9L568.1 365.6L568.5 372.8L568.9 366.5L569.4 361.7L569.8 371.5L570.2 369.2L570.6 363.6L571.0 361.8L571.5 369.8L571.9 360.4L572.3 360.8L572.7 364.2L573.1 358.1L573.6 362.6L574.0 368.0L574.4 355.2L574.8 366.0L575.2 357.2L575.7 361.8L576.1 358.3L576.5 364.7L576.9 350.5L577.3 360.0L577.8 353.2L578.2 361.8L578.6 346.5L579.0 341.5L579.4 353.6L579.9 365.5L580.3 345.3L580.7 363.5L581.1 360.9L581.5 349.6L582.0 362.3L582.4 351.8L582.8 347.2L583.2 358.4L583.6 352.3L584.1 365.8L584.5 348.9L584.9 344.4L585.3 354.5L585.7 364.4L586.2 362.0L586.6 350.0L587.0 346.2L587.4 348.4L587.8 361.2L588.3 349.1L588.7 355.6L589.1 354.3L589.5 358.7L589.9 356.7L590.4 346.0L590.8 352.4L591.2 347.7L591.6 346.2L592.0 333.6L592.5 345.0L592.9 355.9L593.3 346.0L593.7 357.1L594.1 342.7L594.6 356.8L595.0 348.4L595.4 352.2L595.8 344.1L596.2 355.7L596.7 349.2L597.1 357.2L597.5 345.9L597.9 344.4L598.3 351.8L598.8 359.3L599.2 350.4L599.6 354.4L600.0 347.5L600.4 357.2L600.9 350.5L601.3 358.5L601.7 352.7L602.1 353.0L602.5 358.8L603.0 352.3L603.4 362.9L603.8 353.4L604.2 359.7L604.6 356.1L605.1 351.5L605.5 359.0L605.9 366.9L606.3 362.7L606.7 355.0L607.2 363.9L607.6 352.8L608.0 364.8L608.4 355.5L608.8 359.2L609.3 372.2L609.7 359.6L610.1 364.8L610.5 354.4L610.9 363.6L611.4 372.7L611.8 358.5L612.2 357.0L612.6 347.7L613.0 363.0L613.5 348.7L613.9 339.1L614.3 352.2L614.7 365.5L615.1 357.5L615.6 357.2L616.0 356.9L616.4 359.9L616.8 349.5L617.2 356.5L617.7 357.0L618.1 357.0L618.5 345.0L618.9 361.5L619.3 357.6L619.8 350.8L620.2 348.4L620.6 357.1L621.0 366.6L621.4 359.7L621.9 346.8L622.3 359.7L622.7 363.8L623.1 351.4L623.5 352.2L624.0 347.3L624.4 367.2L624.8 347.8L625.2 359.2L625.6 344.5L626.1 357.4L626.5 370.8L626.9 349.0L627.3 362.7L627.7 344.1L628.2 357.1L628.6 346.9L629.0 340.0L629.4 350.2L629.8 365.0L630.3 348.3L630.7 360.9L631.1 344.6L631.5 350.1L631.9 329.6L632.4 348.3L632.8 366.8L633.2 359.2L633.6 337.9L634.0 364.5L634.5 341.7L634.9 361.0L635.3 343.4L635.7 346.8L636.1 357.9L636.6 341.1L637.0 357.2L637.4 373.1L637.8 346.2L638.2 348.5L638.7 363.0L639.1 347.0L639.5 356.0L639.9 349.6L640.3 360.4L640.8 339.4L641.2 359.1L641.6 342.3L642.0 309.0L642.4 351.4L642.9 371.0L643.3 360.6L643.7 335.5L644.1 361.4L644.5 337.4L645.0 356.2L645.4 345.1L645.8 355.3L646.2 340.7L646.6 337.4L647.1 355.5L647.5 384.0L647.9 357.0L648.3 341.9L648.7 360.8L649.2 347.9L649.6 362.0L650.0 360.3L650.4 355.5L650.8 378.0L651.3 349.0L651.7 329.0L652.1 356.1L652.5 376.2L652.9 372.7L653.4 375.6L653.8 354.1L654.2 368.5L654.6 345.1L655.0 362.2L655.5 347.6L655.9 372.9L656.3 358.7L656.7 339.5L657.1 357.1L657.6 386.0L658.0 355.2L658.4 374.0L658.8 369.6L659.2 346.3L659.7 365.5L660.1 349.2L660.5 370.5L660.9 371.5L661.3 345.8L661.8 360.4L662.2 311.0L662.6 358.1L663.0 381.4L663.4 366.2L663.9 358.9L664.3 347.5L664.7 335.5L665.1 336.3L665.5 361.8L666.0 343.3L666.4 360.4L666.8 339.4L667.2 358.1L667.6 376.9L668.1 385.0L668.5 344.7L668.9 371.2L669.3 351.3L669.7 353.7L670.2 352.3L670.6 346.7L671.0 345.7L671.4 356.7L671.8 316.0L672.3 354.3L672.7 374.1L673.1 344.8L673.5 368.5L673.9 351.1L674.4 341.8L674.8 365.8L675.2 363.7L675.6 349.2L676.0 359.8L676.5 355.0L676.9 313.0L677.3 353.5L677.7 373.5L678.1 371.4L678.6 337.8L679.0 345.4L679.4 355.3L679.8 368.3L680.2 340.7L680.7 356.8L681.1 340.1L681.5 337.3L681.9 357.4L682.3 377.1L682.8 336.6L683.2 386.0L683.6 334.4L684.0 340.6L684.4 356.4L684.9 343.5L685.3 360.5L685.7 337.4L686.1 352.7L686.5 321.0L687.0 354.6L687.4 375.1L687.8 364.8L688.2 359.0L688.6 363.9L689.1 340.3L689.5 363.9L689.9 342.6L690.3 373.9L690.7 347.4L691.2 319.0L691.6 357.0L692.0 379.0L692.4 352.3L692.8 377.3L693.3 369.5L693.7 342.3L694.1 362.4L694.5 342.9L694.9 339.4L695.4 359.9L695.8 380.5L696.2 373.5L696.6 386.0L697.0 365.7L697.5 352.2L697.9 373.4L698.3 355.3L698.7 366.2L699.1 345.6L699.6 360.4L700.0 326.0L700.4 358.0L700.8 380.5L701.2 336.9L701.7 334.9L702.1 359.3L702.5 367.9L702.9 385.0L703.3 339.1L703.8 366.0L704.2 361.0L704.6 368.8L705.0 344.8L705.4 382.8L705.9 359.8L706.3 359.8L706.7 324.0L707.1 355.7L707.5 375.6L708.0 342.4L708.4 360.6L708.8 344.6L709.2 353.6L709.6 350.9L710.1 334.9L710.5 355.6L710.9 332.5L711.3 339.7L711.7 321.5L712.2 335.7L712.6 349.2L713.0 338.5L713.4 328.8L713.8 341.2L714.3 320.7L714.7 337.8L715.1 322.2L715.5 337.9L715.9 317.8L716.4 329.2L716.8 316.4L717.2 326.9L717.6 337.8L718.0 320.6L718.5 333.2L718.9 313.9L719.3 331.7L719.7 316.2L720.1 324.5L720.6 309.7L721.0 323.3L721.4 337.1L721.8 336.4L722.2 326.1L722.7 339.5L723.1 321.6L723.5 337.7L723.9 331.9L724.3 345.1L724.8 329.2L725.2 325.0L725.6 336.1L726.0 346.5L726.4 333.0L726.9 346.5L727.3 337.2L727.7 335.4L728.1 349.4L728.5 340.5L729.0 350.2L729.4 338.7L729.8 337.9L730.2 344.7L730.6 351.5L731.1 350.5L731.5 342.5L731.9 342.5L732.3 354.9L732.7 345.8L733.2 353.2L733.6 344.6L734.0 357.7L734.4 346.2L734.8 341.4L735.3 350.7L735.7 359.9L736.1 346.6L736.5 360.5L736.9 353.3L737.4 350.3L737.8 351.9L738.2 363.1L738.6 365.7L739.0 355.6L739.5 362.6L739.9 358.1L740.3 364.2L740.7 370.5L741.1 364.4L741.6 371.2L742.0 366.0L742.4 363.0L742.8 374.8L743.2 369.3L743.7 374.4L744.1 369.3L744.5 375.0L744.9 368.3L745.3 375.4L745.8 382.5L746.2 380.3L746.6 371.4L747.0 372.5L747.4 380.7L747.9 372.2L748.3 383.3L748.7 369.3L749.1 368.3L749.5 381.7L750.0 372.8L750.4 367.4L750.8 380.0L751.2 374.5L751.6 364.5L752.1 373.8L752.5 382.7L752.9 370.0L753.3 381.4L753.7 378.1L754.2 372.0L754.6 368.9L755.0 376.7L755.4 368.2L755.8 378.8L756.3 370.0L756.7 369.7L757.1 378.3L757.5 373.5L757.9 371.4L758.4 377.7L758.8 384.1L759.2 382.3L759.6 370.2L760.0 381.7L760.5 371.4L760.9 377.3L761.3 379.4L761.7 375.0L762.1 366.8L762.6 377.0L763.0 369.7L763.4 366.8L763.8 375.4L764.2 365.8L764.7 364.0L765.1 363.5L765.5 371.7L765.9 379.5L766.3 364.4L766.8 362.2L767.2 365.7L767.6 364.6L768.0 370.8L768.4 366.0L768.9 373.3L769.3 363.8L769.7 364.5L770.1 375.1L770.5 363.4L771.0 370.7L771.4 363.0L771.8 361.6L772.2 368.2L772.6 375.2L773.1 374.6L773.5 377.3L773.9 376.0L774.3 369.3L774.7 379.7L775.2 379.2L775.6 369.3L776.0 367.9L776.4 374.9L776.8 366.6L777.3 374.8L777.7 382.5L778.1 380.6L778.5 378.8L778.9 371.5L779.4 380.4L779.8 380.1L780.2 371.9L780.6 379.2L781.0 374.8L781.5 377.4L781.9 371.3L782.3 376.7L782.7 382.5L783.1 372.7L783.6 378.5L784.0 382.0L784.4 369.1L784.8 378.1L785.2 378.3L785.7 372.4L786.1 375.6L786.5 366.7L786.9 374.4L787.3 382.5L787.8 372.6L788.2 383.0L788.6 382.3L789.0 369.4L789.4 380.3L789.9 382.3L790.3 370.4L790.7 378.0L791.1 369.7L791.5 373.2L792.0 361.5L792.4 372.6L792.8 382.8L793.2 376.2L793.6 367.1L794.1 381.1L794.5 368.9L794.9 381.2L795.3 371.6L795.7 371.3L796.2 379.2L796.6 374.2L797.0 379.1L797.4 384.2L797.8 383.3L798.3 375.3L798.7 375.5L799.1 377.4L799.5 374.1L799.9 378.1L800.4 369.1L800.8 377.7L801.2 367.7L801.6 363.7L802.0 373.3L802.5 382.8L802.9 366.5L803.3 380.4L803.7 368.7L804.1 378.2L804.6 374.2L805.0 371.5L805.4 378.8L805.8 370.4L806.2 377.4L806.7 369.5L807.1 377.1L807.5 384.5L807.9 372.7L808.3 371.4L808.8 381.9L809.2 372.7L809.6 379.8L810.0 371.1L810.4 381.0L810.9 379.8L811.3 375.0L811.7 382.7L812.1 372.7L812.5 379.4L813.0 373.5L813.4 378.5L813.8 384.3L814.2 373.3L814.6 381.7L815.1 373.6L815.5 383.1L815.9 372.7L816.3 380.8L816.7 368.5L817.2 379.4L817.6 365.2L818.0 376.1L818.4 369.5L818.8 375.5L819.3 364.4L819.7 377.5L820.1 366.9L820.5 380.7L820.9 369.5L821.4 370.3L821.8 354.7L822.2 369.3L822.6 382.9L823.0 371.6L823.5 384.4L823.9 382.5L824.3 367.5L824.7 384.6L825.1 373.8L825.6 380.3L826.0 370.0L826.4 376.9L826.8 368.4L827.2 376.2L827.7 384.2L828.1 374.9L828.5 380.5L828.9 374.6L829.3 379.2L829.8 374.7L830.2 380.3L830.6 372.9L831.0 378.1L831.4 372.7L831.9 374.8L832.3 380.7L832.7 366.6L833.1 363.6L833.5 373.2L834.0 382.7L834.4 382.4L834.8 371.9L835.2 382.9L835.6 379.6L836.1 368.0L836.5 379.5L836.9 371.4L837.3 384.4L837.7 380.1L838.2 374.6L838.6 378.5L839.0 381.5L839.4 380.0L839.8 372.7L840.3 377.5L840.7 370.7L841.1 377.1L841.5 368.4L841.9 376.5L842.4 384.5L842.8 381.3L843.2 369.7L843.6 380.3L844.0 370.9L844.5 384.1L844.9 373.6L845.3 384.8L845.7 371.0L846.1 375.1L846.6 379.8L847.0 374.4L847.4 383.1L847.8 371.0L848.2 380.8L848.7 379.5L849.1 369.8L849.5 377.7L849.9 369.5L850.3 376.9L850.8 384.4L851.2 383.3L851.6 369.9L852.0 376.8L852.4 370.8L852.9 382.8L853.3 370.8L853.7 383.7L854.1 371.9L854.5 378.3L855.0 374.8L855.4 380.5L855.8 371.7L856.2 384.8L856.6 374.1L857.1 371.2L857.5 378.0L857.9 382.6L858.3 372.4L858.7 381.2L859.2 368.4L859.6 369.2L860.0 364.5L860.4 373.9L860.8 383.5L861.3 379.2L861.7 365.8L862.1 378.2L862.5 379.9L862.9 365.0L863.4 381.9L863.8 364.9L864.2 362.6L864.6 375.6L865.0 362.7L865.5 376.3L865.9 375.5L866.3 378.3L866.7 373.1L867.1 373.9L867.6 377.3L868.0 379.0L868.4 360.9L868.8 375.6L869.2 360.7L869.7 371.1L870.1 361.5L870.5 372.6L870.9 383.5L871.3 378.4L871.8 365.0L872.2 364.6L872.6 379.3L873.0 364.6L873.4 374.1L873.9 365.3L874.3 369.2L874.7 370.3L875.1 379.1L875.5 369.7L876.0 369.3L876.4 374.9L876.8 364.6L877.2 374.2L877.6 383.5L878.1 377.1L878.5 367.7L878.9 376.5L879.3 365.6L879.7 379.3L880.2 369.0L880.6 380.2L881.0 371.5L881.4 381.8L881.8 371.2L882.3 380.5L882.7 376.7L883.1 368.1L883.5 374.5L883.9 381.5L884.4 367.1L884.8 374.2L885.2 367.4L885.6 373.4L886.0 362.4L886.5 362.5L886.9 354.0L887.3 364.1L887.7 375.6L888.1 368.1L888.6 356.9L889.0 369.4L889.4 362.6L889.8 354.1L890.2 368.2L890.7 350.5L891.1 365.4L891.5 351.6L891.9 366.3L892.3 350.9L892.8 362.3L893.2 345.2L893.6 362.2L894.0 338.1L894.4 356.1L894.9 329.9L895.3 352.9L895.7 374.4L896.1 342.3L896.5 348.2L897.0 339.4L897.4 355.5L897.8 358.4L898.2 351.3L898.6 336.9L899.1 354.2L899.5 343.5L899.9 341.3L900.3 351.4L900.7 361.4L901.2 349.7L901.6 354.9L902.0 344.1L902.4 357.3L902.8 339.7L903.3 350.2L903.7 338.2L904.1 338.0L904.5 350.8L904.9 338.5L905.4 347.6L905.8 357.9L906.2 348.5L906.6 337.0L907.0 350.9L907.5 330.5L907.9 352.7L908.3 327.7L908.7 327.4L909.1 326.9L909.6 330.8L910.0 344.3L910.4 317.2L910.8 330.2L911.2 303.3L911.7 289.8L912.1 314.6L912.5 338.5L912.9 330.7L913.3 309.4L913.8 323.6L914.2 299.6L914.6 324.7L915.0 333.5L915.4 304.3L915.9 321.9L916.3 322.6L916.7 304.5L917.1 320.6L917.5 337.3L918.0 330.0L918.4 304.6L918.8 320.9L919.2 303.8L919.6 299.4L920.1 303.5L920.5 329.1L920.9 300.5L921.3 313.4L921.7 289.6L922.2 311.5L922.6 333.5L923.0 301.8L923.4 331.7L923.8 302.6L924.3 331.5L924.7 320.3L925.1 306.5L925.5 332.6L925.9 338.0L926.4 319.6L926.8 326.5L927.2 311.4L927.6 316.7L928.0 303.2L928.5 321.6L928.9 340.7L929.3 305.4L929.7 327.9L930.1 305.2L930.6 319.3L931.0 295.0L931.4 298.1L931.8 307.1L932.2 284.8L932.7 297.2L933.1 266.4L933.5 291.8L933.9 316.7L934.3 311.1L934.8 305.0L935.2 304.8L935.6 285.4L936.0 301.4L936.4 284.2L936.9 295.4L937.3 301.2L937.7 281.4L938.1 261.5L938.5 285.5L939.0 310.4L939.4 270.8L939.8 301.4L940.2 268.8L940.6 292.6L941.1 286.9L941.5 260.8L941.9 309.3L942.3 264.3L942.7 292.6L943.2 261.6L943.6 289.4L944.0 315.9L944.4 274.4L944.8 285.1L945.3 275.2L945.7 290.4L946.1 289.8L946.5 261.3L946.9 296.6L947.4 298.3L947.8 280.1L948.2 263.9L948.6 283.8L949.0 304.7L949.5 272.5L949.9 299.7L950.3 270.9L950.7 285.8L951.1 273.0L951.6 300.2L952.0 272.5L952.4 278.8L952.8 249.1L953.2 275.0L953.7 302.0L954.1 297.6L954.5 274.8L954.9 260.6L955.3 291.8L955.8 265.9L956.2 290.7L956.6 248.7L957.0 282.7L957.4 278.0L957.9 244.6L958.3 274.8L958.7 305.5L959.1 280.2L959.5 254.0L960.0 274.2L960.4 274.2L960.8 251.8L961.2 285.6L961.6 245.0L962.1 272.2L962.5 237.7L962.9 236.7L963.3 270.8L963.7 305.0L964.2 246.3L964.6 279.4L965.0 290.7L965.4 256.9L965.8 242.7L966.3 282.9L966.7 262.5L967.1 283.0L967.5 260.9L967.9 300.2L968.4 295.4L968.8 268.0L969.2 234.0L969.6 268.6L970.0 302.5L970.5 300.9L970.9 266.3L971.3 302.8L971.7 276.5L972.1 296.0L972.6 267.0L973.0 243.4L973.4 274.4L973.8 304.4L974.2 296.2L974.7 290.5L975.1 272.0L975.5 294.3L975.9 269.0L976.3 263.8L976.8 278.0L977.2 253.2L977.6 276.1L978.0 248.6L978.4 275.5L978.9 301.3L979.3 285.3L979.7 264.3L980.1 291.8L980.5 271.3L981.0 277.1L981.4 266.3L981.8 270.3L982.2 292.4L982.6 314.2L983.1 310.0L983.5 292.4L983.9 295.2L984.3 314.0L984.7 298.0L985.2 321.5L985.6 294.0L986.0 307.3L986.4 312.3L986.8 291.9L987.3 312.9L987.7 333.9L988.1 327.5L988.5 313.1L988.9 312.5L989.4 326.1L989.8 328.2L990.2 304.1L990.6 333.4L991.0 322.8L991.5 325.4L991.9 304.6L992.3 324.1L992.7 343.1L993.1 339.5L993.6 322.2L994.0 331.8L994.4 327.1L994.8 327.1L995.2 318.7L995.7 318.2L996.1 326.6L996.5 308.3L996.9 325.4L997.3 342.8L997.8 319.5L998.2 336.6L998.6 328.9L999.0 323.0L999.4 329.2L999.9 349.4L1000.3 327.9L1000.7 344.0L1001.1 330.4L1001.5 318.2L1002.0 335.4L1002.4 351.8L1002.8 328.1L1003.2 334.7L1003.6 339.5L1004.1 348.6L1004.5 333.8L1004.9 330.9L1005.3 343.8L1005.7 337.3L1006.2 341.7L1006.6 331.2L1007.0 342.6L1007.4 353.8L1007.8 350.3L1008.3 337.2L1008.7 349.9L1009.1 333.8L1009.5 344.9L1009.9 337.7L1010.4 331.6L1010.8 347.1L1011.2 344.6L1011.6 331.5L1012.0 342.1L1012.5 353.1L1012.9 329.5L1013.3 328.7L1013.7 326.8L1014.1 338.3L1014.6 323.1L1015.0 338.1L1015.4 314.2L1015.8 329.2L1016.2 317.2L1016.7 324.6L1017.1 304.5L1017.5 321.3L1017.9 338.2L1018.3 323.3L1018.8 321.8L1019.2 310.0L1019.6 329.1L1020.0 308.4L1020.4 322.1L1020.9 307.3L1021.3 326.2L1021.7 327.5L1022.1 319.7L1022.5 326.8L1023.0 325.4L1023.4 312.2L1023.8 329.5L1024.2 314.1L1024.6 320.3L1025.1 301.5L1025.5 318.7L1025.9 335.8L1026.3 327.7L1026.7 309.9L1027.2 330.9L1027.6 313.2L1028.0 313.7L1028.4 321.4L1028.8 323.1L1029.3 311.5L1029.7 326.7L1030.1 315.0L1030.5 323.0L1030.9 311.8L1031.4 312.8L1031.8 323.3L1032.2 329.4L1032.6 305.3L1033.0 306.5L1033.5 322.7L1033.9 338.8L1034.3 322.4L1034.7 318.1L1035.1 330.7L1035.6 321.0L1036.0 331.0L1036.4 318.0L1036.8 325.9L1037.2 314.3L1037.7 315.8L1038.1 335.9L1038.5 333.3L1038.9 309.5L1039.3 329.6L1039.8 330.0L1040.2 317.8L1040.6 335.2L1041.0 318.2L1041.4 313.7L1041.9 309.5L1042.3 325.7L1042.7 342.3L1043.1 331.5L1043.5 316.5L1044.0 329.9L1044.4 321.0L1044.8 336.2L1045.2 319.3L1045.6 332.5L1046.1 310.9L1046.5 328.8L1046.9 308.9L1047.3 328.1L1047.7 347.2L1048.2 317.8L1048.6 335.4L1049.0 324.9L1049.4 321.6L1049.8 338.4L1050.3 348.5L1050.7 335.4L1051.1 336.7L1051.5 318.1L1051.9 335.4L1052.4 352.4L1052.8 324.6L1053.2 351.2L1053.6 322.6L1054.0 346.9L1054.5 326.3L1054.9 318.4L1055.3 317.2L1055.7 331.5L1056.1 314.1L1056.6 302.0L1057.0 323.5L1057.4 344.9L1057.8 325.7L1058.2 331.9L1058.7 312.5L1059.1 306.3L1059.5 328.9L1059.9 315.3L1060.3 314.2L1060.8 336.3L1061.2 309.8L1061.6 304.4L1062.0 323.6L1062.4 342.1L1062.9 334.0L1063.3 317.1L1063.7 330.2L1064.1 321.5L1064.5 336.9L1065.0 328.7L1065.4 341.7L1065.8 334.3L1066.2 332.5L1066.6 318.3L1067.1 332.5L1067.5 346.2L1067.9 320.2L1068.3 331.1L1068.7 341.4L1069.2 325.8L1069.6 339.3L1070.0 332.2L1070.4 348.8L1070.8 350.5L1071.3 335.1L1071.7 336.7L1072.1 350.4L1072.5 332.1L1072.9 328.4L1073.4 340.4L1073.8 352.1L1074.2 331.7L1074.6 352.8L1075.0 339.9L1075.5 334.5L1075.9 351.7L1076.3 336.8L1076.7 351.7L1077.1 352.1L1077.6 345.6L1078.0 334.5L1078.4 344.2L1078.8 354.6L1079.2 339.3L1079.7 351.1L1080.1 351.0L1080.5 336.1L1080.9 353.6L1081.3 332.1L1081.8 324.3L1082.2 337.1L1082.6 350.4L1083.0 347.5L1083.4 342.6L1083.9 329.1L1084.3 342.7L1084.7 342.8L1085.1 344.0L1085.5 322.2L1086.0 344.6L1086.4 320.4L1086.8 311.5L1087.2 328.5L1087.6 345.6L1088.1 319.7L1088.5 319.7L1088.9 338.6L1089.3 324.3L1089.7 341.6L1090.2 316.7L1090.6 339.8L1091.0 323.1L1091.4 333.3L1091.8 317.2L1092.3 317.2L1092.7 329.9L1093.1 309.5L1093.5 327.7L1093.9 345.4L1094.4 326.8L1094.8 317.6L1095.2 339.0L1095.6 334.9L1096.0 326.5L1096.5 337.5L1096.9 314.9L1097.3 315.7L1097.7 326.4L1098.1 326.7L1098.6 314.0L1099.0 332.1L1099.4 321.0L1099.8 308.5L1100.2 323.3L1100.7 338.2L1101.1 313.3L1101.5 321.9L1101.9 310.7L1102.3 330.0L1102.8 305.8L1103.2 326.4L1103.6 319.1L1104.0 311.8L1104.4 322.1L1104.9 306.6L1105.3 310.0L1105.7 326.9L1106.1 303.8L1106.5 301.7L1107.0 318.8L1107.4 335.9L1107.8 306.6L1108.2 312.2L1108.6 326.8L1109.1 310.3L1109.5 312.2L1109.9 329.3L1110.3 307.0L1110.7 308.6L1111.2 324.4L1111.6 308.3L1112.0 323.2L1112.4 337.5L1112.8 309.8L1113.3 327.5L1113.7 313.7L1114.1 314.6L1114.5 330.8L1114.9 326.0L1115.4 306.4L1115.8 322.0L1116.2 310.4L1116.6 304.6L1117.0 317.2L1117.5 330.0L1117.9 324.4L1118.3 299.5L1118.7 317.8L1119.1 303.2L1119.6 315.8L1120.0 313.7L1120.4 305.3L1120.8 313.8L1121.2 309.0L1121.7 291.6L1122.1 305.7L1122.5 321.0L1122.9 316.5L1123.3 301.3L1123.8 308.5L1124.2 288.8L1124.6 312.6L1125.0 286.5L1125.4 304.6L1125.9 308.4L1126.3 286.9L1126.7 274.5L1127.1 295.7L1127.5 317.3L1128.0 306.4L1128.4 280.5L1128.8 295.8L1129.2 271.8L1129.6 276.8L1130.1 279.2L1130.5 298.7L1130.9 273.6L1131.3 289.7L1131.7 261.3L1132.2 285.9L1132.6 312.6L1133.0 300.2L1133.4 295.2L1133.8 300.4L1134.3 286.9L1134.7 285.7L1135.1 248.6L1135.5 282.6L1135.9 316.2L1136.4 298.9L1136.8 304.8L1137.2 270.0L1137.6 290.3L1138.0 268.2L1138.5 269.4L1138.9 254.3L1139.3 287.0L1139.7 317.2L1140.1 284.6L1140.6 302.3L1141.0 289.1L1141.4 307.2L1141.8 270.7L1142.2 297.5L1142.7 283.5L1143.1 274.6L1143.5 293.7L1143.9 313.3L1144.3 296.5L1144.8 278.9L1145.2 301.0L1145.6 310.9L1146.0 305.7L1146.4 292.6L1146.9 315.3L1147.3 289.0L1147.7 304.5L1148.1 280.9L1148.5 319.1L1149.0 314.6L1149.4 294.8L1149.8 281.3L1150.2 303.6L1150.6 325.0L1151.1 306.1L1151.5 291.6L1151.9 306.3L1152.3 296.5L1152.7 293.8L1153.2 309.7L1153.6 299.1L1154.0 317.6L1154.4 306.5L1154.8 288.3L1155.3 304.3L1155.7 320.5L1156.1 308.9L1156.5 281.3L1156.9 304.6L1157.4 305.8L1157.8 294.5L1158.2 309.4L1158.6 291.8L1159.0 278.5L1159.5 291.9L1159.9 268.9L1160.3 296.0L1160.7 280.2L1161.1 289.2L1161.6 265.0L1162.0 288.4L1162.4 311.9L1162.8 271.7L1163.2 306.6L1163.7 281.8L1164.1 299.2L1164.5 304.5L1164.9 283.0L1165.3 278.8L1165.8 296.6L1166.2 282.2L1166.6 315.6L1167.0 285.1L1167.4 298.5L1167.9 279.2L1168.3 297.9L1168.7 317.3L1169.1 294.9L1169.5 307.3L1170.0 299.9L1170.4 294.6L1170.8 320.2L1171.2 317.7L1171.6 304.1L1172.1 318.6L1172.5 288.9L1172.9 281.5L1173.3 304.3L1173.7 328.1L1174.2 313.1L1174.6 287.7L1175.0 314.1L1175.4 301.2L1175.8 277.6L1176.3 294.1L1176.7 275.3L1177.1 302.3L1177.5 297.7L1177.9 261.7L1178.4 290.9L1178.8 321.3L1179.2 260.2L1179.6 289.9L1180.0 279.6L1180.5 260.2L1180.9 283.9L1181.3 261.9L1181.7 244.1L1182.1 272.8L1182.6 251.0L1183.0 216.7L1183.4 257.6L1183.8 299.2L1184.2 244.4L1184.7 279.2L1185.1 250.7L1185.5 276.9L1185.9 300.8L1186.3 234.3L1186.8 214.9L1187.2 259.8L1187.6 302.2L1188.0 255.1L1188.4 291.6L1188.9 254.1L1189.3 285.4L1189.7 288.2L1190.1 252.7L1190.5 283.6L1191.0 263.6L1191.4 278.7L1191.8 248.6L1192.2 278.0L1192.6 308.5L1193.1 295.3L1193.5 261.3L1193.9 285.8L1194.3 258.7L1194.7 284.1L1195.2 263.3L1195.6 288.8L1196.0 259.3L1196.4 287.0L1196.8 252.0L1197.3 287.7L1197.7 322.3L1198.1 275.3L1198.5 298.4L1198.9 273.7L1199.4 279.2L1199.8 269.8L1200.2 295.0L1200.6 283.4L1201.0 303.9L1201.5 264.8L1201.9 268.9L1202.3 297.6L1202.7 325.5L1203.1 318.2L1203.6 286.2L1204.0 306.3L1204.4 284.9L1204.8 301.3L1205.2 286.8L1205.7 319.3L1206.1 293.3L1206.5 278.1L1206.9 301.6L1207.3 324.6L1207.8 288.9L1208.2 282.3L1208.6 307.5L1209.0 277.4L1209.4 297.3L1209.9 283.2L1210.3 305.9L1210.7 313.9L1211.1 280.5L1211.5 266.9L1212.0 292.9L1212.4 319.5L1212.8 309.0L1213.2 296.6L1213.6 307.6L1214.1 321.4L1214.5 292.9L1214.9 309.2L1215.3 315.9L1215.7 293.7L1216.2 301.7L1216.6 274.3L1217.0 300.2L1217.4 325.9L1217.8 311.1L1218.3 282.0L1218.7 289.4L1219.1 312.8L1219.5 288.0L1219.9 314.1L1220.4 297.2L1220.8 299.5L1221.2 290.5L1221.6 279.4L1222.0 304.4L1222.5 330.0L1222.9 318.2L1223.3 297.5L1223.7 321.4L1224.1 311.8L1224.6 288.1L1225.0 297.8L1225.4 309.6L1225.8 291.8L1226.2 289.2L1226.7 281.5L1227.1 310.1L1227.5 338.5L1227.9 318.8L1228.3 285.2L1228.8 320.4L1229.2 292.2L1229.6 292.7L1230.0 325.8L1230.4 293.5L1230.9 326.6L1231.3 314.1L1231.7 284.5L1232.1 312.1L1232.5 338.5L1233.0 337.4L1233.4 330.9L1233.8 310.7L1234.2 331.6L1234.6 336.1L1235.1 326.5L1235.5 332.3L1235.9 320.3L1236.3 320.0L1236.7 298.5L1237.2 318.6L1237.6 338.5L1238.0 311.9L1238.4 328.3L1238.8 308.2L1239.3 328.7L1239.7 309.5L1240.1 301.1L1240.5 339.0L1240.9 305.2L1241.4 321.8L1241.8 301.5L1242.2 320.0L1242.6 337.9L1243.0 305.8L1243.5 306.7L1243.9 322.7L1244.3 315.4L1244.7 324.3L1245.1 315.9L1245.6 306.6L1246.0 312.2L1246.4 321.6L1246.8 303.8L1247.2 318.0L1247.7 334.3L1248.1 306.3L1248.5 323.1L1248.9 324.1L1249.3 299.8L1249.8 311.2L1250.2 285.2L1250.6 309.6L1251.0 332.9L1251.4 289.9L1251.9 305.4L1252.3 322.3L1252.7 299.5L1253.1 320.6L1253.5 304.9L1254.0 321.3L1254.4 312.1L1254.8 303.7L1255.2 322.0L1255.6 339.1L1256.1 308.0L1256.5 313.2L1256.9 317.0L1257.3 336.1L1257.7 321.4L1258.2 318.6L1258.6 321.4L1259.0 333.5L1259.6 338.0L1260.2 250.0L1260.5 191.0L1260.9 205.0L1261.3 232.0L1261.8 222.0L1262.3 262.0L1262.7 250.0L1263.1 291.0" stroke="#0000ff" stroke-width="3.1"/>
</g>
<path d="M199.50 57.35V68.91M199.50 73.91V85.47M199.50 90.47V102.03M199.50 107.03V118.59M199.50 123.59V135.15M199.50 140.15V151.71M199.50 156.71V168.27M199.50 173.27V184.83M199.50 189.83V201.39M199.50 206.39V217.95M199.50 222.95V234.51M199.50 239.51V251.07M199.50 256.07V267.63M199.50 272.63V284.19M199.50 289.19V300.75M199.50 305.75V317.31M199.50 322.31V333.87M199.50 338.87V350.43M199.50 355.43V366.99M199.50 371.99V382.50" stroke="#000" stroke-width="3.1" fill="none"/>
<path d="M467.50 57.35V68.91M467.50 73.91V85.47M467.50 90.47V102.03M467.50 107.03V118.59M467.50 123.59V135.15M467.50 140.15V151.71M467.50 156.71V168.27M467.50 173.27V184.83M467.50 189.83V201.39M467.50 206.39V217.95M467.50 222.95V234.51M467.50 239.51V251.07M467.50 256.07V267.63M467.50 272.63V284.19M467.50 289.19V300.75M467.50 305.75V317.31M467.50 322.31V333.87M467.50 338.87V350.43M467.50 355.43V366.99M467.50 371.99V382.50" stroke="#000" stroke-width="3.1" fill="none"/>
<path d="M736.50 57.35V68.91M736.50 73.91V85.47M736.50 90.47V102.03M736.50 107.03V118.59M736.50 123.59V135.15M736.50 140.15V151.71M736.50 156.71V168.27M736.50 173.27V184.83M736.50 189.83V201.39M736.50 206.39V217.95M736.50 222.95V234.51M736.50 239.51V251.07M736.50 256.07V267.63M736.50 272.63V284.19M736.50 289.19V300.75M736.50 305.75V317.31M736.50 322.31V333.87M736.50 338.87V350.43M736.50 355.43V366.99M736.50 371.99V382.50" stroke="#000" stroke-width="3.1" fill="none"/>
<path d="M1004.50 57.35V68.91M1004.50 73.91V85.47M1004.50 90.47V102.03M1004.50 107.03V118.59M1004.50 123.59V135.15M1004.50 140.15V151.71M1004.50 156.71V168.27M1004.50 173.27V184.83M1004.50 189.83V201.39M1004.50 206.39V217.95M1004.50 222.95V234.51M1004.50 239.51V251.07M1004.50 256.07V267.63M1004.50 272.63V284.19M1004.50 289.19V300.75M1004.50 305.75V317.31M1004.50 322.31V333.87M1004.50 338.87V350.43M1004.50 355.43V366.99M1004.50 371.99V382.50" stroke="#000" stroke-width="3.1" fill="none"/>
<text transform="translate(207.8 95.6) rotate(0.03)" font-size="22.2" text-anchor="start" fill="#333" stroke="#333" stroke-width="0.35" textLength="58.4" lengthAdjust="spacingAndGlyphs">01/11</text>
<text transform="translate(476.8 95.6) rotate(0.03)" font-size="22.2" text-anchor="start" fill="#333" stroke="#333" stroke-width="0.35" textLength="58.4" lengthAdjust="spacingAndGlyphs">01/12</text>
<text transform="translate(745.3 95.6) rotate(0.03)" font-size="22.2" text-anchor="start" fill="#333" stroke="#333" stroke-width="0.35" textLength="58.4" lengthAdjust="spacingAndGlyphs">01/13</text>
<text transform="translate(1013.8 95.6) rotate(0.03)" font-size="22.2" text-anchor="start" fill="#333" stroke="#333" stroke-width="0.35" textLength="58.4" lengthAdjust="spacingAndGlyphs">01/14</text>
<rect x="188" y="54" width="1162" height="329" fill="none" stroke="#000" stroke-width="2.05"/>
<path d="M188 383v7M277 383v7M366 383v7M456 383v7M545 383v7M635 383v7M724 383v7M813 383v7M903 383v7M992 383v7M1082 383v7M1171 383v7M1261 383v7M1350 383v7M188 383h-7M1350 383h7M188 300h-7M1350 300h7M188 218h-7M1350 218h7M188 136h-7M1350 136h7M188 54h-7M1350 54h7" stroke="#000" stroke-width="1.4" fill="none"/>
<text transform="translate(172.6 390.2) rotate(0.03)" font-size="22.2" text-anchor="end" fill="#000" stroke="#000" stroke-width="0.35" textLength="31.5" lengthAdjust="spacingAndGlyphs">0.0</text>
<text transform="translate(1364.8 390.2) rotate(0.03)" font-size="22.2" text-anchor="start" fill="#000" stroke="#000" stroke-width="0.35" textLength="31.5" lengthAdjust="spacingAndGlyphs">0.0</text>
<text transform="translate(172.6 308.075) rotate(0.03)" font-size="22.2" text-anchor="end" fill="#000" stroke="#000" stroke-width="0.35" textLength="31.5" lengthAdjust="spacingAndGlyphs">3.5</text>
<text transform="translate(1364.8 308.075) rotate(0.03)" font-size="22.2" text-anchor="start" fill="#000" stroke="#000" stroke-width="0.35" textLength="31.5" lengthAdjust="spacingAndGlyphs">7.8</text>
<text transform="translate(172.6 225.95) rotate(0.03)" font-size="22.2" text-anchor="end" fill="#000" stroke="#000" stroke-width="0.35" textLength="31.5" lengthAdjust="spacingAndGlyphs">7.0</text>
<text transform="translate(1364.8 225.95) rotate(0.03)" font-size="22.2" text-anchor="start" fill="#000" stroke="#000" stroke-width="0.35" textLength="44.5" lengthAdjust="spacingAndGlyphs">15.7</text>
<text transform="translate(172.6 143.825) rotate(0.03)" font-size="22.2" text-anchor="end" fill="#000" stroke="#000" stroke-width="0.35" textLength="44.5" lengthAdjust="spacingAndGlyphs">10.5</text>
<text transform="translate(1364.8 143.825) rotate(0.03)" font-size="22.2" text-anchor="start" fill="#000" stroke="#000" stroke-width="0.35" textLength="44.5" lengthAdjust="spacingAndGlyphs">23.5</text>
<text transform="translate(172.6 61.7) rotate(0.03)" font-size="22.2" text-anchor="end" fill="#000" stroke="#000" stroke-width="0.35" textLength="44.5" lengthAdjust="spacingAndGlyphs">14.0</text>
<text transform="translate(1364.8 61.7) rotate(0.03)" font-size="22.2" text-anchor="start" fill="#000" stroke="#000" stroke-width="0.35" textLength="44.5" lengthAdjust="spacingAndGlyphs">31.3</text>
<text transform="translate(187.50 412.7) rotate(0.03)" font-size="22.2" text-anchor="middle" fill="#000" stroke="#000" stroke-width="0.35" textLength="26.4" lengthAdjust="spacingAndGlyphs">23</text>
<text transform="translate(276.92 412.7) rotate(0.03)" font-size="22.2" text-anchor="middle" fill="#000" stroke="#000" stroke-width="0.35" textLength="13.2" lengthAdjust="spacingAndGlyphs">6</text>
<text transform="translate(366.35 412.7) rotate(0.03)" font-size="22.2" text-anchor="middle" fill="#000" stroke="#000" stroke-width="0.35" textLength="26.4" lengthAdjust="spacingAndGlyphs">14</text>
<text transform="translate(455.77 412.7) rotate(0.03)" font-size="22.2" text-anchor="middle" fill="#000" stroke="#000" stroke-width="0.35" textLength="26.4" lengthAdjust="spacingAndGlyphs">22</text>
<text transform="translate(545.19 412.7) rotate(0.03)" font-size="22.2" text-anchor="middle" fill="#000" stroke="#000" stroke-width="0.35" textLength="13.2" lengthAdjust="spacingAndGlyphs">6</text>
<text transform="translate(634.62 412.7) rotate(0.03)" font-size="22.2" text-anchor="middle" fill="#000" stroke="#000" stroke-width="0.35" textLength="26.4" lengthAdjust="spacingAndGlyphs">14</text>
<text transform="translate(724.04 412.7) rotate(0.03)" font-size="22.2" text-anchor="middle" fill="#000" stroke="#000" stroke-width="0.35" textLength="26.4" lengthAdjust="spacingAndGlyphs">22</text>
<text transform="translate(813.46 412.7) rotate(0.03)" font-size="22.2" text-anchor="middle" fill="#000" stroke="#000" stroke-width="0.35" textLength="13.2" lengthAdjust="spacingAndGlyphs">6</text>
<text transform="translate(902.88 412.7) rotate(0.03)" font-size="22.2" text-anchor="middle" fill="#000" stroke="#000" stroke-width="0.35" textLength="26.4" lengthAdjust="spacingAndGlyphs">14</text>
<text transform="translate(992.31 412.7) rotate(0.03)" font-size="22.2" text-anchor="middle" fill="#000" stroke="#000" stroke-width="0.35" textLength="26.4" lengthAdjust="spacingAndGlyphs">22</text>
<text transform="translate(1081.73 412.7) rotate(0.03)" font-size="22.2" text-anchor="middle" fill="#000" stroke="#000" stroke-width="0.35" textLength="13.2" lengthAdjust="spacingAndGlyphs">6</text>
<text transform="translate(1171.15 412.7) rotate(0.03)" font-size="22.2" text-anchor="middle" fill="#000" stroke="#000" stroke-width="0.35" textLength="26.4" lengthAdjust="spacingAndGlyphs">14</text>
<text transform="translate(1260.58 412.7) rotate(0.03)" font-size="22.2" text-anchor="middle" fill="#000" stroke="#000" stroke-width="0.35" textLength="26.4" lengthAdjust="spacingAndGlyphs">22</text>
<text transform="translate(1350.00 412.7) rotate(0.03)" font-size="22.2" text-anchor="middle" fill="#000" stroke="#000" stroke-width="0.35" textLength="13.2" lengthAdjust="spacingAndGlyphs">6</text>
<text transform="translate(605.6 440.6) rotate(0.03)" font-size="22.2" text-anchor="start" fill="#000" stroke="#000" stroke-width="0.35" textLength="195" lengthAdjust="spacingAndGlyphs">01/10/26-01/14/26</text>
<text transform="translate(812.6 440.6) rotate(0.03)" font-size="22.2" text-anchor="start" fill="#000" stroke="#000" stroke-width="0.35" textLength="119.5" lengthAdjust="spacingAndGlyphs">Hours(UTC)</text>
<text transform="translate(116.2,220) rotate(-90)" font-size="22.2" text-anchor="middle" stroke="#000" stroke-width="0.35" textLength="35.5" lengthAdjust="spacingAndGlyphs">m/s</text>
<text transform="translate(1436.2,221) rotate(-90)" font-size="22.2" text-anchor="middle" stroke="#000" stroke-width="0.35" textLength="43.5" lengthAdjust="spacingAndGlyphs">mph</text>
<rect x="188.4" y="11.2" width="703.2" height="35.6" rx="3.5" fill="#fff" fill-opacity="0.8" stroke="#ccc" stroke-opacity="0.85" stroke-width="1.39"/>
<path d="M194.9 28.3H240" stroke="#bfbf00" stroke-opacity="0.5" stroke-width="3.1"/>
<text transform="translate(254.5 34.7) rotate(0.03)" font-size="22.2" text-anchor="start" fill="#000" stroke="#000" stroke-width="0.35" textLength="224" lengthAdjust="spacingAndGlyphs">10m Wind Speed (5s)</text>
<path d="M519.2 28.3H564" stroke="#00f" stroke-width="3.1"/>
<text transform="translate(577.5 34.7) rotate(0.03)" font-size="22.2" text-anchor="start" fill="#000" stroke="#000" stroke-width="0.35" textLength="139" lengthAdjust="spacingAndGlyphs">2-minute Avg</text>
<rect x="758.1" y="20.3" width="43.8" height="15.2" fill="#e6e6e6" stroke="#d6d6d6" stroke-width="1"/>
<text transform="translate(817.5 34.7) rotate(0.03)" font-size="22.2" text-anchor="start" fill="#000" stroke="#000" stroke-width="0.35" textLength="67" lengthAdjust="spacingAndGlyphs">NIGHT</text>
</svg>
</body></html>
